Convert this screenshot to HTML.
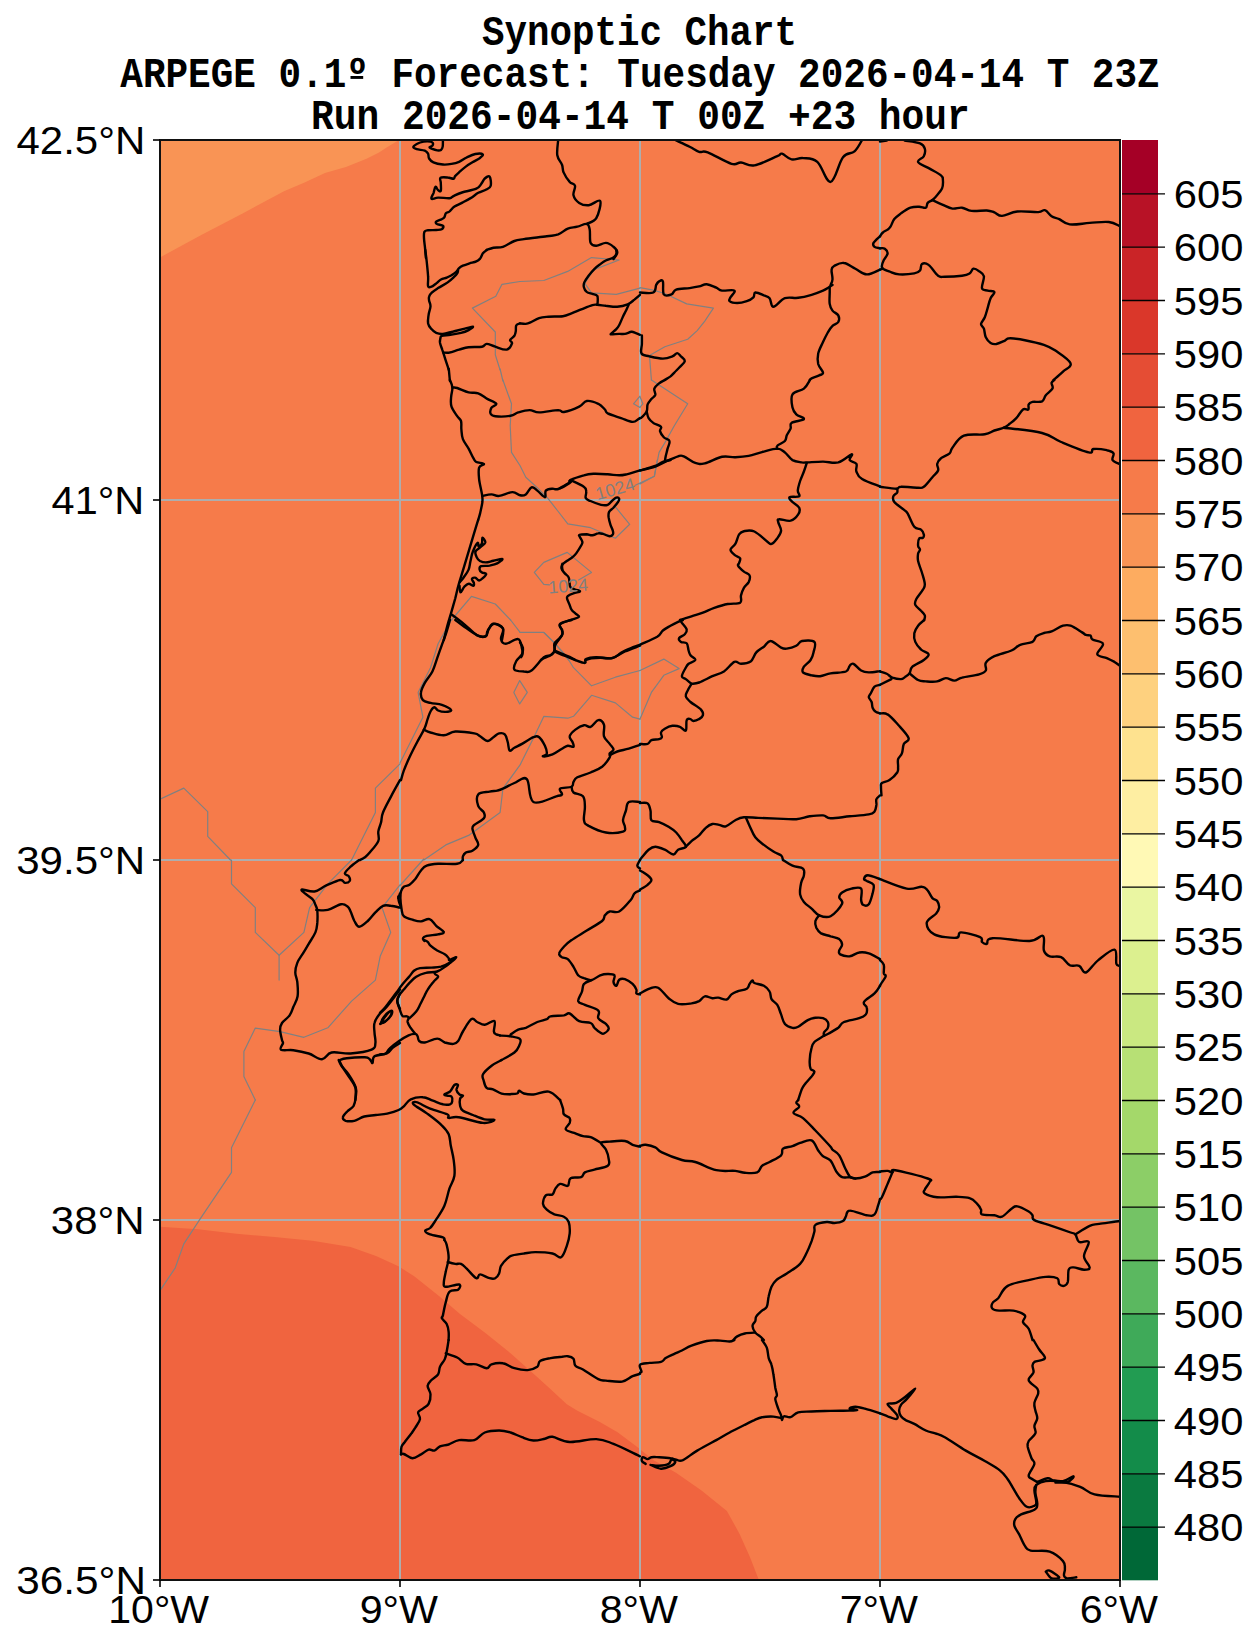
<!DOCTYPE html>
<html><head><meta charset="utf-8"><style>html,body{margin:0;padding:0;background:#fff;}svg{display:block;}</style></head><body>
<svg width="1259" height="1646" viewBox="0 0 1259 1646">
<rect x="0" y="0" width="1259" height="1646" fill="#ffffff"/>
<defs><clipPath id="mc"><rect x="160" y="140" width="960" height="1440"/></clipPath></defs>
<g clip-path="url(#mc)">
<rect x="160" y="140" width="960" height="1440" fill="#f67b4a"/>
<path d="M158,138 L399,138 L397.5,141 L387,147.3 L379,152.5 L366.5,158.7 L346,167 L325,173 L304.6,182.4 L284,191.3 L242.6,213.4 L201.3,235 L158,258.5 Z" fill="#f99455"/>
<path d="M158,1226.6 L160,1226.7 L198.1,1229.2 L236.3,1233.8 L274.4,1236.9 L312.5,1240.7 L350.6,1247 L376,1255.9 L399,1266.6 L414.2,1276.3 L439.6,1296.6 L460,1314 L485.4,1333 L510.8,1353.4 L536.3,1376.3 L549,1387.7 L566.8,1404.2 L577,1410.6 L599.8,1422 L617.6,1432.2 L637.9,1447.4 L653.2,1460.1 L676,1472.8 L701.5,1490.6 L714.2,1500.8 L726.9,1511 L739.6,1533.9 L749.8,1556.7 L758.7,1579.6 L759.5,1582 L158,1582 Z" fill="#f0643f"/>

<line x1="400" y1="140" x2="400" y2="1580" stroke="#adadad" stroke-width="2"/>
<line x1="640" y1="140" x2="640" y2="1580" stroke="#adadad" stroke-width="2"/>
<line x1="880" y1="140" x2="880" y2="1580" stroke="#adadad" stroke-width="2"/>
<line x1="160" y1="500" x2="1120" y2="500" stroke="#adadad" stroke-width="2"/>
<line x1="160" y1="860" x2="1120" y2="860" stroke="#adadad" stroke-width="2"/>
<line x1="160" y1="1220" x2="1120" y2="1220" stroke="#adadad" stroke-width="2"/>
<g fill="none" stroke="#808080" stroke-width="1.2" stroke-linejoin="round" stroke-linecap="round">
<polyline points="520.0,281.5 502.0,284.3 495.8,296.2 472.4,308.1 495.3,332.0 495.3,354.8 500.1,370.0"/>
<polyline points="520.0,281.5 543.8,280.5 567.7,271.4 591.5,257.6 619.1,260.0 595.3,269.1 591.5,272.9 584.8,283.4 591.5,292.9 616.3,294.3 640.0,288.1"/>
<polyline points="640.0,287.7 653.3,290.2 664.8,293.5 686.7,303.9 713.4,308.1 704.8,321.1 697.2,330.6 687.7,339.2 664.8,346.8 649.5,355.4 651.4,380.0"/>
<polyline points="502.9,380.0 511.5,403.8 510.2,425.8 511.5,452.4 520.1,465.8 525.8,477.2 537.3,487.7 547.7,498.2 558.2,511.5 567.8,523.9 590.6,527.7 602.1,532.5 615.4,538.2 629.7,524.3 614.5,505.8"/>
<polyline points="640.0,396.2 633.5,403.8 640.0,407.6"/>
<polyline points="451.5,620.0 471.5,596.4 495.3,604.0 510.6,620.0"/>
<polyline points="657.2,460.0 654.4,476.2 635.3,485.3"/>
<polyline points="578.6,580.0 591.5,572.4 567.2,552.4 543.8,562.4 534.3,572.4 543.8,584.3 549.5,584.8"/>
<polyline points="520.0,632.5 543.8,632.5 555.3,643.9 568.6,660.0"/>
<polyline points="640.0,396.8 642.9,403.8 640.0,407.1"/>
<polyline points="651.4,380.0 687.7,403.8 674.3,425.8 664.8,442.9 659.1,452.4 654.3,476.3 640.0,483.9"/>
<polyline points="510.6,620.0 520.1,632.4 543.9,632.4 554.4,642.9 565.8,655.3 573.5,667.7 591.6,685.8 615.4,677.2 640.0,670.5"/>
<polyline points="400.0,763.0 422.9,717.2 418.1,692.4 430.5,667.7 438.1,643.8 451.1,620.0"/>
<polyline points="519.7,680.6 527.3,692.4 519.7,703.9 513.8,692.4 519.7,680.6"/>
<polyline points="640.0,719.1 632.6,717.2 615.4,702.9 591.6,695.3 573.5,716.3 567.8,718.2 543.9,716.3 533.4,738.2 520.1,764.9 502.9,788.7 500.1,812.5 468.6,835.4 445.8,844.9 423.8,860.0"/>
<polyline points="640.0,670.5 663.8,659.1 679.1,668.6 663.8,675.3 651.4,692.4 640.0,719.1"/>
<polyline points="160.0,799.2 183.8,788.1 207.7,811.6 207.7,836.4 230.5,860.0"/>
<polyline points="400.0,763.9 375.4,788.1 375.4,812.5 351.6,860.0"/>
<polyline points="231.5,860.0 231.5,883.8 255.3,907.7 255.3,932.4 279.1,955.3 279.1,980.1"/>
<polyline points="279.1,955.3 303.9,932.4 309.6,907.7 327.8,883.8 351.6,860.0"/>
<polyline points="400.0,884.8 382.1,907.7 390.7,932.4 380.2,956.3 375.4,980.1 351.6,1001.1 327.8,1027.8 303.9,1037.3 280.1,1031.6 255.3,1028.1 243.9,1051.6 243.9,1076.4 255.3,1100.0"/>
<polyline points="255.3,1100.0 231.5,1147.7 231.5,1172.4 200.0,1219.1 183.8,1243.9 175.3,1267.8 160.0,1290.6"/>
<polyline points="500.1,369.0 502.9,381.0"/>
<polyline points="423.8,859.0 400.0,885.5"/>
</g>
<g fill="none" stroke="#000" stroke-width="2.4" stroke-linejoin="round" stroke-linecap="round">
<path d="M442.9,140.4 C442.9,141.5 443.0,144.9 442.7,146.6 C442.4,148.3 442.0,149.2 441.0,149.9 C440.0,150.6 438.9,150.6 437.2,150.4 C435.5,150.2 432.8,149.2 431.5,148.7 C430.1,148.1 429.4,147.9 429.5,147.3 C429.7,146.8 431.8,146.4 432.4,145.6 C433.0,144.9 433.2,144.0 432.9,143.2 C432.5,142.5 432.1,141.9 430.5,141.6 C428.9,141.3 426.2,141.2 423.8,141.6 C421.4,142.0 419.0,142.7 417.2,143.7 C415.3,144.7 413.4,146.1 413.3,147.1 C413.3,148.0 414.6,148.6 416.7,149.2 C418.7,149.9 422.7,149.8 424.8,150.6 C426.8,151.4 427.3,152.3 428.1,153.7 C428.9,155.2 428.1,156.9 429.1,158.5 C430.0,160.0 430.9,161.2 433.4,162.3 C435.8,163.4 439.6,164.2 442.9,164.5 C446.2,164.8 448.6,164.4 451.5,163.9 C454.4,163.4 456.3,163.0 459.1,161.8 C461.8,160.7 463.8,158.9 466.7,157.5 C469.6,156.1 472.4,154.6 475.3,154.0 C478.2,153.4 482.0,153.6 482.7,154.4 C483.5,155.1 481.4,156.8 479.6,158.2 C477.7,159.6 474.9,160.8 472.4,162.3 C470.0,163.8 468.2,164.8 465.8,166.6 C463.4,168.4 461.0,170.6 459.1,172.3 C457.2,174.0 456.1,175.0 455.1,176.1 C454.1,177.3 454.9,178.6 453.6,178.8 C452.2,179.0 450.0,177.6 447.7,177.5 C445.3,177.3 441.7,176.9 440.5,177.8 C439.3,178.8 440.7,180.4 440.8,182.8 C440.8,185.1 441.3,189.6 440.8,190.9 C440.3,192.2 438.9,190.7 437.9,189.9 C437.0,189.2 436.2,186.3 435.5,186.8 C434.7,187.3 434.3,190.6 433.6,192.8 C432.8,195.0 430.6,198.0 431.5,198.8 C432.3,199.7 434.9,197.7 438.1,197.6 C441.4,197.5 446.8,198.5 449.6,198.2 C452.3,198.0 451.1,197.2 453.4,196.1 C455.6,195.1 457.8,193.9 462.0,192.5 C466.1,191.2 472.8,190.3 476.3,188.7 C479.7,187.2 479.7,185.8 481.2,183.9 C482.8,182.1 483.3,179.8 484.8,178.5 C486.3,177.2 488.5,175.3 489.6,176.6 C490.7,177.9 491.3,183.3 490.7,185.7 C490.1,188.0 488.5,188.2 486.3,189.5 C484.0,190.8 481.1,191.3 478.3,192.8 C475.6,194.3 473.9,196.1 471.0,197.9 C468.1,199.6 465.4,201.0 462.4,202.6 C459.5,204.2 456.8,205.0 454.5,206.6 C452.2,208.2 451.1,210.2 449.6,211.4 C448.0,212.6 446.9,212.2 445.9,213.3 C445.0,214.4 445.1,216.2 444.3,217.3 C443.6,218.4 443.2,218.4 441.7,219.2 C440.3,220.0 437.1,220.7 436.2,221.6 C435.4,222.4 435.7,223.2 437.0,224.0 C438.2,224.7 442.2,224.9 443.1,225.9 C443.9,226.8 443.0,228.5 441.7,229.2 C440.5,230.0 438.8,229.8 436.2,230.0 C433.7,230.2 429.8,229.9 427.6,230.3 C425.5,230.6 425.1,230.5 424.4,231.9 C423.7,233.3 423.9,235.2 424.0,238.1 C424.1,240.9 424.6,244.0 425.0,247.6 C425.3,251.2 425.8,256.1 425.9,258.0"/>
<path d="M425.3,250.0 C425.5,252.1 426.2,256.6 426.7,261.4 C427.2,266.2 427.9,272.2 428.1,276.7 C428.4,281.1 427.5,284.4 428.1,286.2 C428.7,288.0 430.0,287.2 431.5,286.7 C432.9,286.2 434.5,284.6 436.2,283.4 C437.9,282.1 439.1,280.6 441.0,279.5 C442.9,278.5 444.8,278.4 446.7,277.6 C448.6,276.9 449.8,276.3 451.5,275.3 C453.2,274.2 454.9,273.2 456.2,271.9 C457.6,270.6 457.9,269.2 459.1,268.1 C460.3,267.0 461.0,266.6 462.9,265.7 C464.8,264.9 467.2,264.1 469.6,263.3 C472.0,262.6 474.4,262.3 476.3,261.4 C478.1,260.6 478.9,260.0 480.1,258.6 C481.3,257.1 481.7,254.9 482.9,253.3 C484.1,251.8 486.0,250.6 486.7,250.0"/>
<path d="M458.1,270.5 C458.0,271.0 457.9,272.2 457.2,273.4 C456.5,274.5 456.0,275.1 454.3,276.7 C452.6,278.3 450.6,280.3 447.7,282.4 C444.7,284.5 441.0,286.2 438.1,288.1 C435.2,290.0 433.1,291.3 431.5,292.9 C429.8,294.4 429.5,295.3 429.1,296.7 C428.6,298.1 428.8,298.8 429.1,300.5 C429.3,302.2 430.6,303.7 430.5,306.2 C430.4,308.8 429.0,311.7 428.6,314.8 C428.2,317.9 427.6,320.8 428.1,323.4 C428.6,326.0 430.0,327.4 431.5,329.1 C432.9,330.8 434.2,332.1 436.2,332.9 C438.3,333.8 439.8,334.1 442.9,333.9 C446.0,333.6 449.4,332.4 453.4,331.5 C457.3,330.5 461.3,329.5 464.8,328.6 C468.3,327.8 472.2,326.5 472.9,326.7 C473.6,327.0 470.8,328.9 468.6,330.1 C466.5,331.2 464.3,332.1 461.0,332.9 C457.7,333.8 453.9,334.3 450.5,334.8 C447.1,335.3 443.7,335.3 441.9,335.8 C440.1,336.3 440.9,336.4 440.5,337.7 C440.2,339.0 439.7,340.7 440.0,342.9 C440.4,345.2 441.6,347.4 442.4,350.1 C443.3,352.7 443.9,354.8 444.8,357.7 C445.7,360.6 446.9,364.1 447.7,366.3 C448.4,368.5 448.6,369.3 448.8,370.0"/>
<path d="M443.4,352.5 C444.5,352.5 446.7,353.0 449.6,352.5 C452.4,351.9 455.7,350.5 459.1,349.6 C462.5,348.7 464.5,347.7 468.6,347.2 C472.7,346.7 478.7,347.3 482.0,346.7 C485.2,346.1 484.3,343.9 486.7,343.9 C489.1,343.9 491.7,345.7 495.3,346.7 C498.9,347.8 503.7,350.2 506.8,349.6 C509.8,349.0 511.4,345.1 512.0,343.4 C512.6,341.7 509.7,341.4 510.1,340.1 C510.5,338.7 513.3,337.4 514.4,335.8 C515.4,334.2 515.5,332.9 515.8,331.0 C516.1,329.1 515.5,326.7 516.3,325.3 C517.0,323.9 519.3,323.7 520.0,323.4"/>
<path d="M616.3,250.0 C616.3,250.7 616.8,252.4 616.3,253.8 C615.8,255.2 615.3,256.4 613.4,257.6 C611.5,258.8 608.2,259.3 605.8,260.5 C603.4,261.7 602.1,262.8 600.1,264.3 C598.0,265.8 596.4,267.0 594.3,269.1 C592.3,271.1 590.4,273.3 588.6,275.7 C586.8,278.1 585.2,280.3 584.3,282.4 C583.5,284.5 583.4,285.5 583.9,287.2 C584.3,288.9 585.2,290.7 586.7,291.9 C588.3,293.1 590.6,293.2 592.4,293.8 C594.3,294.5 596.3,294.4 597.2,295.8 C598.1,297.1 597.7,299.8 597.7,301.5 C597.7,303.1 597.3,304.2 597.2,304.8"/>
<path d="M520.0,323.4 C521.0,323.5 523.8,324.0 525.7,323.9 C527.6,323.7 528.1,323.5 530.5,322.4 C532.9,321.4 535.8,319.2 539.1,318.1 C542.3,317.1 544.3,317.1 548.6,316.7 C552.9,316.4 558.8,316.8 562.9,316.2 C567.0,315.6 568.0,314.7 571.5,313.4 C574.9,312.1 578.2,310.6 582.0,309.1 C585.7,307.6 589.7,305.9 592.4,305.1 C595.2,304.3 594.8,304.7 597.2,304.8 C599.6,304.9 602.2,305.4 605.8,305.8 C609.4,306.1 613.3,307.0 617.2,306.7 C621.2,306.5 624.6,305.6 627.7,304.3 C630.8,303.0 632.2,301.3 634.4,299.6 C636.6,297.8 639.0,295.7 640.0,294.8"/>
<path d="M628.7,304.8 C628.1,305.9 626.8,308.9 625.8,311.0 C624.8,313.1 624.1,314.1 622.9,316.7 C621.7,319.3 620.3,323.1 619.1,325.3 C617.9,327.5 617.6,327.7 616.3,329.1 C614.9,330.6 612.4,332.5 611.5,333.4 C610.6,334.3 610.1,334.3 611.5,334.4 C612.9,334.4 616.7,334.0 619.1,333.9 C621.5,333.8 622.6,334.3 624.8,333.9 C627.1,333.5 629.6,332.0 631.5,331.8 C633.4,331.6 633.8,332.4 635.3,332.9 C636.9,333.5 639.2,334.5 640.0,334.8"/>
<path d="M558.2,140.0 C558.0,142.7 556.6,150.8 557.3,155.3 C558.0,159.7 560.9,161.7 562.0,164.8 C563.2,167.9 562.2,169.3 563.6,172.4 C564.9,175.5 567.6,179.5 569.7,181.9 C571.7,184.3 574.3,183.3 575.0,185.8 C575.7,188.2 572.7,192.2 573.5,195.3 C574.2,198.4 576.4,201.1 579.2,202.9 C581.9,204.7 584.9,205.5 588.7,205.2 C592.5,204.9 598.8,198.7 600.2,201.0 C601.5,203.3 598.7,214.0 596.3,218.2 C593.9,222.3 588.5,222.8 586.8,223.9"/>
<path d="M486.7,250.0 C487.9,249.6 490.5,248.3 493.4,247.7 C496.3,247.1 499.2,248.0 502.9,246.8 C506.7,245.6 510.6,242.4 514.4,241.0 C518.2,239.7 518.1,240.0 523.9,239.1 C529.7,238.3 540.6,237.1 546.8,236.3 C553.0,235.4 554.4,235.7 558.2,234.4 C562.0,233.0 564.3,230.0 567.8,228.6 C571.2,227.3 573.9,227.6 577.3,226.7 C580.7,225.9 584.6,223.4 586.8,223.9 C589.0,224.4 589.0,226.2 589.7,229.6 C590.4,233.0 589.4,240.0 590.6,242.9 C591.8,245.9 593.6,245.8 596.3,245.8 C599.1,245.8 602.8,242.8 605.9,242.9 C609.0,243.1 611.4,245.0 613.5,246.8 C615.6,248.5 617.3,250.2 617.3,252.5 C617.3,254.7 614.2,257.9 613.5,259.1"/>
<path d="M675.3,140.0 C677.8,141.2 685.3,144.5 689.6,146.7 C693.9,148.8 695.8,150.8 699.1,151.8 C702.4,152.8 701.8,150.2 707.7,152.4 C713.5,154.6 725.5,162.0 731.5,163.8 C737.5,165.6 736.9,162.2 741.0,162.5 C745.2,162.8 747.9,166.5 754.4,165.4 C760.9,164.2 772.3,158.3 777.3,156.2 C782.2,154.1 779.4,153.1 782.0,153.7 C784.6,154.3 787.8,158.7 791.5,159.4 C795.3,160.2 798.4,157.7 803.0,158.1 C807.6,158.6 812.3,157.6 817.3,161.9 C822.3,166.2 826.0,182.8 830.6,181.9 C835.3,181.1 838.7,162.6 843.0,157.2 C847.3,151.7 851.0,154.5 854.5,151.4 C857.9,148.3 860.7,142.1 862.1,140.0"/>
<path d="M880.0,236.3 C878.8,237.5 874.5,241.1 873.5,242.9 C872.5,244.8 873.3,245.8 874.5,246.8 C875.6,247.7 879.0,248.0 880.0,248.3"/>
<path d="M830.6,284.9 C831.0,283.8 832.4,281.9 832.5,279.2 C832.7,276.4 831.2,272.0 831.6,269.6 C831.9,267.2 832.2,267.0 834.4,265.8 C836.7,264.6 840.2,262.4 844.0,263.0 C847.7,263.5 851.3,266.6 855.4,268.7 C859.5,270.7 862.4,274.2 866.8,274.4 C871.3,274.6 877.6,270.5 880.0,269.6"/>
<path d="M640.0,292.5 C642.4,292.5 650.4,293.9 653.3,292.5 C656.3,291.1 655.2,286.9 656.2,284.9 C657.2,282.9 657.9,282.1 659.1,281.4 C660.3,280.8 662.0,279.1 662.9,281.4 C663.7,283.8 662.3,292.1 663.8,294.4 C665.4,296.7 669.2,295.3 671.5,294.4 C673.7,293.6 673.0,290.8 676.2,289.6 C679.5,288.5 685.4,288.7 689.6,288.1 C693.7,287.5 696.0,287.1 699.1,286.4 C702.2,285.7 703.6,284.1 706.7,284.3 C709.8,284.5 713.5,286.6 716.3,287.7 C719.0,288.9 718.7,290.1 722.0,290.6 C725.2,291.1 732.8,289.4 734.4,290.6 C735.9,291.8 731.4,295.4 730.5,297.3 C729.7,299.2 728.4,300.1 729.6,301.1 C730.8,302.1 734.1,303.0 737.2,303.0 C740.3,303.0 743.8,302.1 746.8,301.1 C749.7,300.1 751.9,298.8 753.4,297.3 C755.0,295.7 753.4,292.8 755.3,292.5 C757.2,292.2 761.3,294.3 763.9,295.4 C766.5,296.4 767.9,296.2 769.6,298.2 C771.3,300.3 770.7,306.8 773.4,306.8 C776.2,306.8 780.4,299.8 784.9,298.2 C789.3,296.6 793.4,298.5 798.2,297.8 C803.0,297.2 807.1,296.1 811.6,294.8 C816.0,293.5 819.7,292.0 823.0,290.6 C826.3,289.2 828.0,287.8 829.7,286.8 C831.4,285.8 832.0,285.2 832.5,284.9"/>
<path d="M829.7,286.8 C829.7,287.8 829.7,289.4 829.7,292.5 C829.7,295.6 829.2,300.7 829.7,303.9 C830.2,307.2 831.0,308.6 832.5,310.6 C834.1,312.7 837.2,313.3 838.3,315.4 C839.3,317.4 839.3,320.2 838.3,322.0 C837.2,323.9 834.4,324.0 832.5,325.9 C830.6,327.7 829.5,329.6 827.8,332.5 C826.1,335.5 824.7,338.3 823.0,342.1 C821.3,345.8 819.1,349.6 818.2,353.5 C817.4,357.4 817.4,360.6 818.2,364.0 C819.1,367.4 822.8,370.5 823.0,372.6 C823.2,374.6 821.2,374.4 819.2,375.4 C817.1,376.5 813.3,377.5 811.6,378.3 C809.8,379.1 810.0,379.7 809.7,380.0"/>
<path d="M641.9,335.4 C641.9,336.9 642.0,340.7 641.9,344.0 C641.8,347.2 640.2,351.3 641.5,353.5 C642.9,355.7 645.7,355.4 649.5,356.4 C653.4,357.3 658.8,358.6 662.9,358.6 C667.0,358.6 669.8,357.4 672.4,356.4 C675.0,355.4 675.6,353.1 677.2,353.1 C678.7,353.1 679.6,354.9 681.0,356.4 C682.4,357.8 685.0,359.2 684.8,361.1 C684.6,363.0 681.9,364.8 680.0,366.8 C678.1,368.9 676.0,370.8 674.3,372.6 C672.6,374.3 672.2,375.0 670.5,376.4 C668.8,377.7 665.8,379.3 664.8,380.0"/>
<path d="M880.0,141.5 L886.7,140.6"/>
<path d="M904.8,140.6 C907.5,141.1 916.4,142.0 920.0,143.4 C923.6,144.9 924.1,146.3 924.8,148.6 C925.5,150.9 925.0,153.8 923.8,156.2 C922.6,158.6 917.1,159.7 918.1,161.9 C919.2,164.2 925.4,166.2 929.6,168.6 C933.7,171.0 938.6,173.2 941.0,175.3 C943.4,177.3 942.7,177.6 942.9,180.0 C943.1,182.4 943.3,185.5 942.0,188.6 C940.6,191.7 937.0,195.1 935.3,197.2 C933.6,199.2 933.8,199.0 932.4,200.0 C931.1,201.1 928.9,201.5 927.7,202.9 C926.5,204.3 927.3,207.0 925.8,207.7 C924.2,208.4 921.8,206.7 919.1,206.7 C916.3,206.7 913.8,206.5 910.5,207.7 C907.2,208.9 903.9,211.3 901.0,213.4 C898.1,215.5 896.2,216.7 894.3,219.1 C892.4,221.5 891.7,224.8 890.5,226.7 C889.3,228.6 889.0,228.6 887.6,229.6 C886.3,230.6 884.2,231.3 882.9,232.5 C881.5,233.7 880.5,235.6 880.0,236.3"/>
<path d="M932.4,200.0 C934.3,200.9 939.3,203.3 942.9,204.8 C946.5,206.4 949.0,208.1 952.4,208.6 C955.9,209.1 958.5,207.3 962.0,207.7 C965.4,208.1 967.0,210.4 971.5,210.9 C976.0,211.4 982.6,210.3 986.8,210.5 C990.9,210.8 991.6,211.5 994.4,212.4 C997.1,213.4 997.9,216.0 1002.0,215.9 C1006.1,215.7 1010.7,212.2 1017.3,211.5 C1023.8,210.8 1033.2,212.3 1038.2,212.1 C1043.2,211.8 1042.5,209.4 1044.9,210.2 C1047.3,210.9 1049.0,214.6 1051.6,216.3 C1054.1,217.9 1055.9,217.6 1059.2,219.1 C1062.4,220.6 1064.2,223.8 1069.7,224.4 C1075.2,225.1 1082.7,223.4 1089.7,222.9 C1096.7,222.5 1103.3,221.4 1108.8,222.0 C1114.2,222.6 1118.0,225.4 1120.0,226.2"/>
<path d="M880.0,248.3 C880.9,248.3 883.4,247.7 884.8,248.7 C886.1,249.6 887.8,251.4 887.6,253.4 C887.5,255.5 884.8,257.9 883.8,260.1 C882.8,262.3 882.1,264.3 881.9,265.8 C881.7,267.4 881.5,267.6 882.9,268.7 C884.2,269.7 886.6,270.5 889.5,271.5 C892.4,272.6 894.6,274.0 899.1,274.4 C903.5,274.7 910.5,274.1 914.3,273.4 C918.1,272.8 918.7,272.3 920.0,270.6 C921.4,268.9 920.4,264.9 921.9,263.9 C923.5,262.9 925.7,262.7 928.6,264.9 C931.5,267.0 935.2,273.6 938.1,275.7 C941.1,277.9 940.5,276.7 944.8,276.7 C949.1,276.7 957.5,276.3 962.0,275.7 C966.4,275.1 967.5,274.7 969.6,273.4 C971.7,272.2 971.7,269.1 973.4,268.7 C975.1,268.3 977.2,269.8 979.1,271.2 C981.0,272.5 983.4,273.2 983.9,276.3 C984.4,279.4 981.3,285.7 982.0,288.3 C982.7,290.9 985.5,289.9 987.7,290.6 C989.9,291.3 993.9,290.7 994.4,292.1 C994.9,293.5 991.8,295.4 990.6,298.2 C989.4,301.0 988.7,304.3 987.7,307.8 C986.7,311.2 986.0,314.4 984.8,317.3 C983.6,320.2 981.2,321.9 981.0,324.0 C980.9,326.0 983.0,326.3 983.9,328.7 C984.7,331.1 984.6,334.7 985.8,337.3 C987.0,339.9 988.7,341.8 990.6,343.0 C992.5,344.2 993.9,344.3 996.3,344.0 C998.7,343.6 1001.5,342.1 1003.9,341.1 C1006.3,340.1 1005.9,338.4 1009.6,338.3 C1013.4,338.1 1018.7,339.0 1024.9,340.2 C1031.1,341.4 1038.4,343.0 1043.9,344.9 C1049.4,346.8 1050.6,347.3 1055.4,350.6 C1060.2,354.0 1069.3,359.6 1070.6,363.4 C1072.0,367.2 1066.1,368.6 1063.0,371.6 C1059.9,374.6 1055.2,378.5 1053.5,380.0"/>
<path d="M880.0,269.6 L882.9,268.7"/>
<path d="M449.9,380.0 C450.4,381.4 452.2,384.5 452.4,387.6 C452.6,390.7 451.3,393.7 451.1,397.2 C450.9,400.6 450.4,403.3 451.5,406.7 C452.6,410.1 455.5,413.6 457.2,416.2 C458.9,418.8 460.2,418.6 461.0,421.0 C461.8,423.4 461.0,426.3 461.4,429.6 C461.7,432.8 461.6,435.7 462.9,439.1 C464.2,442.5 466.7,445.2 468.6,448.6 C470.5,452.1 472.0,455.8 473.4,458.2 C474.8,460.6 474.4,460.9 476.3,462.0 C478.1,463.0 483.4,462.8 483.9,463.9 C484.4,464.9 480.0,464.9 479.1,467.7 C478.3,470.4 478.6,474.3 479.1,479.1 C479.6,483.9 481.4,490.3 482.0,494.4 C482.6,498.5 482.7,498.6 482.4,502.0 C482.0,505.4 480.8,510.2 480.1,513.4 C479.3,516.7 478.5,518.8 478.2,519.9"/>
<path d="M452.4,387.6 C453.3,387.7 454.3,387.1 457.2,388.0 C460.1,388.9 464.9,391.4 468.6,392.4 C472.4,393.4 474.7,392.1 478.2,393.3 C481.6,394.5 484.4,397.2 487.7,399.1 C490.9,400.9 495.6,402.3 496.3,403.8 C497.0,405.4 492.5,405.9 491.5,407.6 C490.5,409.4 489.9,411.8 490.5,413.4 C491.2,414.9 491.7,415.8 495.3,416.2 C498.9,416.7 506.4,416.5 510.6,415.8 C514.7,415.2 514.8,413.4 518.2,412.4 C521.6,411.4 525.9,410.1 529.6,410.1 C533.4,410.1 534.0,412.4 539.2,412.4 C544.3,412.4 553.8,410.2 558.2,410.1 C562.7,410.1 560.2,412.6 563.9,412.0 C567.7,411.4 575.1,408.7 579.2,406.7 C583.3,404.7 583.4,401.5 586.8,401.0 C590.2,400.5 595.0,402.3 598.3,403.8 C601.5,405.4 603.2,407.8 604.9,409.5 C606.6,411.3 604.9,411.8 607.8,413.4 C610.7,414.9 616.7,416.6 621.1,418.1 C625.6,419.7 629.5,421.8 632.6,421.9 C635.7,422.1 636.9,419.8 638.3,419.1 C639.6,418.4 639.7,418.3 640.0,418.1"/>
<path d="M482.4,495.9 C484.0,495.6 488.5,494.4 491.5,494.4 C494.5,494.4 495.4,496.3 499.1,495.9 C502.9,495.5 508.7,492.2 512.5,492.1 C516.2,492.0 517.7,494.9 520.1,495.3 C522.5,495.7 523.8,495.8 525.8,494.4 C527.9,492.9 529.5,488.0 531.5,487.3 C533.6,486.6 534.8,488.8 537.3,490.6 C539.7,492.3 543.3,497.2 544.9,497.2 C546.4,497.2 544.5,492.1 545.8,490.6 C547.2,489.0 550.3,488.9 552.5,488.7 C554.7,488.4 555.1,490.1 558.2,489.0 C561.3,488.0 567.3,484.6 569.7,482.9 C572.1,481.3 571.2,480.6 571.6,480.1"/>
<path d="M478.1,520.0 C476.9,523.9 474.0,533.3 471.5,541.9 C468.9,550.5 466.1,559.9 463.8,567.7 C461.5,575.4 460.1,579.3 458.6,584.8 C457.0,590.3 456.6,593.0 455.3,598.2 C453.9,603.3 452.3,608.6 451.0,613.4 C449.6,618.2 448.9,620.1 447.6,624.8 C446.3,629.6 444.5,637.3 443.8,640.0"/>
<path d="M460.0,582.0 C460.7,581.1 462.3,579.4 463.8,577.2 C465.4,575.0 467.4,572.5 468.6,569.6 C469.8,566.6 469.7,564.2 470.5,561.0 C471.3,557.7 471.6,554.7 472.9,551.5 C474.2,548.2 476.6,543.8 477.6,542.9 C478.7,541.9 477.8,546.1 478.6,546.2 C479.4,546.3 481.3,544.9 481.9,543.4 C482.6,541.8 481.8,537.8 482.4,537.6 C483.0,537.5 485.6,540.7 485.3,542.4 C484.9,544.1 482.3,545.5 480.5,547.2 C478.7,548.8 476.1,549.7 475.5,551.5 C474.8,553.3 475.9,555.5 476.7,557.2 C477.5,558.9 478.4,560.0 480.0,561.0 C481.7,561.9 483.3,562.4 485.8,562.4 C488.2,562.4 490.4,561.4 493.4,560.8 C496.4,560.2 501.7,558.4 502.4,558.9 C503.1,559.4 499.5,562.2 497.2,563.4 C494.9,564.6 492.5,565.0 489.6,565.6 C486.6,566.1 482.8,565.5 481.0,566.2 C479.2,566.9 479.4,568.4 479.6,569.6 C479.7,570.7 480.7,571.7 481.9,572.4 C483.1,573.2 486.0,572.9 486.2,573.9 C486.5,574.8 484.7,576.5 483.4,577.7 C482.1,578.9 480.5,580.5 479.1,580.5 C477.6,580.5 476.6,577.9 475.3,577.7 C474.0,577.4 472.2,578.2 471.9,579.1 C471.7,580.0 473.6,581.7 473.8,582.9 C474.1,584.1 474.3,585.6 473.4,585.8 C472.4,585.9 470.2,583.5 468.6,583.7 C467.0,583.8 465.8,585.1 464.3,586.7 C462.8,588.3 461.4,592.6 460.5,592.4 C459.6,592.3 459.7,587.0 459.5,585.8"/>
<path d="M451.4,614.4 C453.7,616.1 459.2,620.1 463.8,623.9 C468.5,627.7 473.2,633.1 477.2,635.3 C481.1,637.6 483.9,637.1 485.8,636.3 C487.6,635.4 486.2,632.8 487.7,630.6 C489.1,628.3 491.1,624.3 493.9,623.9 C496.6,623.5 501.4,625.3 502.9,628.2 C504.4,631.1 502.1,637.9 502.0,640.0"/>
<path d="M560.0,488.1 C561.5,487.2 566.7,484.3 568.6,482.9 C570.5,481.4 567.7,481.4 570.5,480.0 C573.2,478.6 579.7,476.4 583.8,475.3 C587.9,474.1 589.1,474.0 593.4,473.8 C597.6,473.6 603.0,474.0 607.7,474.3 C612.3,474.6 615.7,475.3 619.1,475.3 C622.5,475.3 623.1,475.1 626.7,474.3 C630.3,473.5 634.1,472.1 639.1,470.7 C644.1,469.2 650.1,467.8 654.4,466.2 C658.6,464.6 660.0,463.0 662.9,461.9 C665.9,460.8 669.2,460.3 670.6,460.0"/>
<path d="M570.5,480.0 C572.9,481.2 581.0,484.6 583.8,486.7 C586.7,488.7 585.9,489.4 586.2,491.5 C586.6,493.5 585.0,496.4 585.7,498.1 C586.5,499.8 587.8,499.8 590.5,501.0 C593.2,502.2 597.9,504.1 601.0,504.8 C604.1,505.5 605.7,505.5 607.7,504.8 C609.6,504.1 610.4,502.3 611.9,501.0 C613.5,499.7 614.9,498.1 616.2,497.6 C617.5,497.2 618.8,497.8 619.1,498.6 C619.4,499.4 619.2,500.3 618.1,501.9 C617.1,503.6 615.0,505.9 613.4,507.7 C611.7,509.5 609.9,510.2 609.1,511.9 C608.2,513.7 608.4,514.9 608.6,517.2 C608.9,519.5 609.7,522.3 610.5,524.8 C611.3,527.3 612.5,529.3 612.9,531.0 C613.3,532.7 613.5,533.4 612.9,534.3 C612.3,535.3 611.4,536.3 609.6,536.3 C607.8,536.2 604.9,534.4 602.9,533.9 C600.8,533.4 600.0,533.1 598.1,533.4 C596.2,533.6 594.5,535.1 592.4,535.3 C590.3,535.5 589.0,534.4 586.7,534.3 C584.4,534.3 580.7,534.3 579.5,534.8 C578.3,535.3 579.5,535.9 580.0,537.2 C580.5,538.5 582.2,540.4 582.4,542.0 C582.6,543.5 582.1,543.7 581.0,545.8 C579.9,547.8 577.7,551.3 576.2,553.4 C574.7,555.5 574.1,555.8 572.4,557.2 C570.7,558.6 568.5,559.7 566.7,561.0 C564.9,562.4 563.2,563.3 562.4,564.8 C561.6,566.4 562.4,568.8 562.4,569.6"/>
<path d="M562.4,563.8 C562.2,564.7 561.0,566.9 561.5,568.6 C561.9,570.3 563.5,571.8 564.8,573.4 C566.1,574.9 567.8,575.5 568.6,577.2 C569.5,578.9 569.2,581.1 569.6,582.9 C569.9,584.7 569.5,586.0 570.5,587.2 C571.5,588.4 573.6,588.8 575.3,589.6 C577.0,590.3 580.4,590.8 580.0,591.5 C579.7,592.2 575.6,592.5 573.4,593.4 C571.1,594.2 568.8,595.2 567.7,596.2 C566.5,597.3 566.8,597.6 567.2,599.1 C567.5,600.6 568.8,602.9 569.6,604.8 C570.3,606.7 570.4,608.0 571.5,609.6 C572.5,611.1 573.9,612.1 575.3,613.4 C576.7,614.7 579.4,615.7 579.1,616.7 C578.8,617.8 575.9,618.2 573.4,619.1 C570.8,620.1 567.2,621.0 564.8,622.0 C562.4,622.9 560.9,623.5 560.0,624.4 C559.2,625.2 559.6,625.6 560.0,626.7 C560.5,627.9 562.1,629.0 562.4,630.5 C562.8,632.1 562.7,633.7 561.9,635.3 C561.2,636.9 559.5,638.1 558.1,639.6 C556.8,641.1 554.9,641.9 554.3,643.9 C553.7,645.9 555.1,648.8 554.8,650.6 C554.4,652.4 553.5,652.9 552.4,653.9 C551.3,654.9 550.1,655.5 548.6,656.3 C547.1,657.1 545.2,657.5 543.8,658.2 C542.5,658.9 541.5,659.7 541.0,660.0"/>
<path d="M554.8,650.6 C555.9,651.1 558.3,652.3 561.0,653.4 C563.6,654.5 567.0,655.6 569.6,656.8 C572.1,657.9 574.3,659.4 575.3,660.0"/>
<path d="M585.8,660.0 C586.8,659.7 588.9,658.6 591.5,658.2 C594.1,657.8 596.3,657.7 600.1,657.7 C603.8,657.7 608.7,659.0 612.5,658.2 C616.2,657.3 617.9,654.7 621.0,652.9 C624.1,651.2 626.2,650.1 629.6,648.7 C633.0,647.2 638.1,645.5 640.0,644.8"/>
<path d="M520.0,642.5 C520.5,643.4 522.4,645.6 522.9,647.7 C523.3,649.8 522.7,652.7 522.4,654.4 C522.0,656.1 521.2,656.7 521.0,657.2"/>
<path d="M664.8,380.0 C663.8,380.6 660.9,381.9 659.1,383.4 C657.2,385.0 655.0,386.5 654.3,388.6 C653.6,390.6 655.8,393.0 655.3,394.9 C654.7,396.8 652.8,397.3 651.4,399.1 C650.1,400.8 648.5,402.2 647.6,404.4 C646.8,406.6 647.7,409.2 646.7,411.5 C645.6,413.8 643.1,416.0 641.9,417.2 C640.7,418.4 640.3,418.0 640.0,418.1"/>
<path d="M646.7,411.5 C647.0,412.7 647.4,416.1 648.6,418.1 C649.8,420.2 651.1,421.3 653.3,422.9 C655.6,424.4 659.8,425.2 661.0,426.7 C662.2,428.2 659.5,429.2 660.0,431.1 C660.5,433.0 662.1,435.4 663.8,437.2 C665.5,439.0 668.9,438.9 669.5,441.0 C670.2,443.1 668.3,445.9 667.6,448.6 C667.0,451.4 666.2,453.8 665.7,456.3 C665.2,458.7 665.0,460.9 664.8,462.0"/>
<path d="M640.0,470.5 C642.7,469.9 650.8,468.3 655.3,466.7 C659.7,465.2 660.7,463.9 664.8,462.0 C668.9,460.1 674.7,457.3 678.1,456.3 C681.6,455.2 680.8,455.1 683.8,456.3 C686.9,457.5 691.5,461.7 695.3,462.9 C699.1,464.2 700.0,464.4 704.8,463.3 C709.6,462.2 716.5,457.9 722.0,456.8 C727.5,455.7 730.5,457.4 735.3,457.2 C740.1,457.0 743.9,456.8 748.7,455.9 C753.5,454.9 756.9,453.4 762.0,452.1 C767.1,450.8 773.1,448.6 777.3,448.6 C781.4,448.7 782.1,450.4 784.9,452.4 C787.6,454.5 789.4,458.3 792.5,460.1 C795.6,461.8 799.3,461.9 802.0,462.4 C804.8,462.8 804.0,462.5 807.8,462.4 C811.5,462.2 817.5,461.6 823.0,461.6 C828.5,461.6 833.1,463.7 838.3,462.4 C843.4,461.0 849.5,454.8 851.6,454.3 C853.7,453.9 848.8,458.3 849.7,460.1 C850.5,461.8 855.2,461.8 856.4,463.9 C857.6,465.9 855.3,468.8 856.4,471.5 C857.4,474.2 857.8,476.4 862.1,479.1 C866.3,481.8 876.8,485.1 880.0,486.4"/>
<path d="M777.3,448.6 C777.3,448.1 775.9,447.1 777.3,445.8 C778.6,444.4 783.2,442.9 784.9,441.0 C786.6,439.1 785.8,437.5 786.8,435.3 C787.8,433.1 789.7,430.8 790.6,428.6 C791.5,426.4 789.1,424.6 791.5,422.9 C794.0,421.2 803.1,420.6 803.9,419.1 C804.8,417.5 798.4,416.4 796.3,414.3 C794.3,412.3 793.2,411.2 792.5,407.6 C791.8,404.0 790.4,397.7 792.5,394.3 C794.6,390.9 800.8,391.2 803.9,388.6 C807.1,386.0 808.9,381.5 810.0,380.0"/>
<path d="M806.8,462.9 C806.3,464.5 805.1,468.2 803.9,471.5 C802.7,474.8 801.2,477.6 800.1,481.0 C799.0,484.5 798.0,487.8 797.8,490.6 C797.7,493.3 800.6,495.1 799.2,496.3 C797.7,497.5 790.8,496.2 789.6,497.2 C788.4,498.3 790.8,500.1 792.5,502.0 C794.2,503.9 798.1,505.5 799.2,507.7 C800.2,510.0 799.8,512.1 798.2,514.4 C796.7,516.7 794.0,519.8 790.6,520.7 C787.2,521.5 781.4,518.9 779.2,519.2 C776.9,519.4 777.9,520.0 778.2,522.0 C778.5,524.1 781.2,527.7 781.1,530.6 C780.9,533.5 779.0,535.8 777.3,538.2 C775.5,540.6 773.2,543.3 771.5,543.9 C769.8,544.6 770.8,544.3 767.7,542.0 C764.6,539.8 758.7,533.5 754.4,531.5 C750.1,529.6 746.6,530.7 743.9,531.2 C741.1,531.7 740.7,532.1 739.1,534.4 C737.6,536.7 736.9,541.2 735.3,543.9 C733.8,546.7 730.5,547.6 730.5,549.7 C730.5,551.7 733.6,553.8 735.3,555.4 C737.0,556.9 739.4,556.9 740.1,558.2 C740.8,559.6 739.5,561.6 739.1,563.0 C738.8,564.4 737.3,564.3 738.2,565.9 C739.0,567.4 741.8,569.9 743.9,571.6 C746.0,573.3 748.8,573.5 749.6,575.4 C750.5,577.3 749.7,579.8 748.7,582.1 C747.6,584.3 745.3,585.4 743.9,587.8 C742.5,590.2 741.7,592.7 741.0,595.4 C740.3,598.1 742.5,601.1 740.1,602.7 C737.7,604.2 732.3,603.1 727.7,604.0 C723.1,604.9 718.8,606.3 714.3,607.8 C709.9,609.3 707.0,611.0 702.9,612.6 C698.8,614.1 695.6,615.0 691.5,616.4 C687.4,617.7 682.1,619.3 680.0,620.0"/>
<path d="M1054.4,380.0 C1053.9,380.5 1051.9,381.3 1051.6,382.9 C1051.2,384.4 1053.5,386.3 1052.5,388.6 C1051.5,390.8 1047.7,393.0 1045.8,395.3 C1044.0,397.5 1044.4,400.1 1042.0,401.4 C1039.6,402.6 1034.9,401.4 1032.5,401.9 C1030.1,402.5 1029.4,403.0 1028.7,404.4 C1027.9,405.8 1029.3,408.6 1028.3,409.5 C1027.3,410.5 1025.1,408.0 1023.0,409.5 C1020.8,411.1 1018.7,415.6 1016.3,418.1 C1013.9,420.7 1011.9,422.1 1009.6,423.8 C1007.4,425.6 1006.7,426.5 1003.9,427.7 C1001.2,428.9 997.8,429.3 994.4,430.5 C990.9,431.7 990.3,433.4 984.8,434.3 C979.4,435.3 969.7,433.3 963.9,435.7 C958.0,438.1 955.0,444.5 952.4,447.7 C949.9,450.9 951.6,451.5 949.6,453.4 C947.5,455.3 943.2,456.3 941.0,458.2 C938.8,460.0 937.7,461.6 937.2,463.9 C936.7,466.1 939.0,468.1 938.1,470.5 C937.3,472.9 935.0,474.3 932.4,477.2 C929.8,480.1 926.4,484.9 923.8,486.8 C921.3,488.6 922.2,487.7 918.1,487.7 C914.0,487.7 904.9,486.6 901.0,486.8 C897.0,486.9 900.0,488.7 896.2,488.7 C892.4,488.7 882.9,487.1 880.0,486.8"/>
<path d="M1003.9,427.7 C1010.8,428.6 1031.7,430.4 1042.0,433.0 C1052.3,435.6 1052.7,438.5 1061.1,442.0 C1069.5,445.5 1082.9,451.2 1088.7,452.4 C1094.6,453.7 1090.2,449.4 1093.5,449.0 C1096.8,448.6 1103.2,449.4 1106.8,450.2 C1110.4,450.9 1112.5,451.6 1113.5,453.4 C1114.5,455.2 1111.4,458.1 1112.6,460.1 C1113.7,462.0 1118.7,463.5 1120.0,464.3"/>
<path d="M897.2,488.7 C897.2,489.3 897.8,491.1 897.2,492.5 C896.5,493.8 893.9,494.6 893.3,496.3 C892.8,498.0 892.4,499.6 894.3,502.0 C896.2,504.4 901.4,507.6 903.8,509.6 C906.2,511.7 905.8,510.4 907.6,513.4 C909.5,516.5 911.9,523.9 914.3,526.8 C916.7,529.7 919.3,528.3 921.0,529.6 C922.7,531.0 923.5,532.9 923.8,534.4 C924.2,535.9 923.7,537.1 922.9,537.8 C922.0,538.6 919.9,537.2 919.1,538.6 C918.2,540.0 918.0,543.9 918.1,545.8 C918.3,547.8 920.0,548.3 920.0,549.7 C920.0,551.0 918.5,551.4 918.1,553.5 C917.8,555.5 917.4,557.7 918.1,561.1 C918.8,564.5 920.7,568.4 921.9,572.5 C923.1,576.7 924.6,580.9 924.8,584.0 C925.0,587.1 924.4,586.9 922.9,589.7 C921.3,592.4 917.6,596.5 916.2,599.2 C914.8,602.0 914.4,602.9 915.3,604.9 C916.1,607.0 919.3,608.8 921.0,610.7 C922.7,612.5 924.2,613.7 924.8,615.4 C925.4,617.1 924.3,619.2 924.2,620.0"/>
<path d="M449.9,620.0 C449.4,622.1 448.1,627.0 446.7,631.4 C445.3,635.9 443.7,640.0 441.9,644.8 C440.2,649.6 438.9,653.3 437.2,658.1 C435.5,662.9 434.6,667.0 432.4,671.5 C430.2,675.9 426.8,679.1 424.8,682.9 C422.7,686.7 421.3,689.4 421.0,692.4 C420.6,695.5 421.2,698.2 422.9,700.1 C424.6,702.0 427.1,702.1 430.5,702.9 C433.9,703.8 438.2,703.6 441.9,704.8 C445.6,706.1 450.4,708.7 451.1,710.0 C451.8,711.2 448.1,711.8 445.8,711.9 C443.4,712.0 440.2,711.4 438.1,710.5 C436.1,709.7 435.7,707.1 434.3,707.3 C432.9,707.5 431.7,709.4 430.5,711.5 C429.3,713.6 428.7,716.0 427.6,719.1 C426.5,722.2 426.3,724.5 424.4,728.7 C422.5,732.8 419.8,736.9 417.2,742.0 C414.5,747.1 411.9,752.1 409.5,757.3 C407.1,762.4 405.4,766.5 403.8,770.6 C402.3,774.7 401.5,778.4 401.0,780.1"/>
<path d="M423.8,729.6 C425.0,730.1 426.9,731.4 430.5,732.5 C434.1,733.5 439.4,735.5 443.8,735.3 C448.3,735.2 449.8,731.9 455.3,731.5 C460.8,731.2 469.9,732.6 474.3,733.4 C478.8,734.3 477.7,734.9 480.1,736.3 C482.5,737.7 485.3,740.9 487.7,741.0 C490.1,741.2 491.3,738.6 493.4,737.2 C495.5,735.9 497.1,733.9 499.1,733.4 C501.2,732.9 503.3,732.8 504.8,734.4 C506.4,735.9 506.8,739.1 507.7,742.0 C508.6,744.9 508.4,749.6 509.6,750.6 C510.8,751.6 512.1,748.9 514.4,747.7 C516.6,746.5 518.6,745.8 522.0,743.9 C525.4,742.0 530.4,738.4 533.4,737.2 C536.5,736.0 537.1,735.7 539.2,737.2 C541.2,738.8 543.5,742.9 544.9,745.8 C546.2,748.7 547.1,751.6 546.8,753.4 C546.4,755.3 541.9,756.1 543.0,756.3 C544.0,756.5 549.1,755.8 552.5,754.4 C555.9,753.0 559.3,750.2 562.0,748.7 C564.8,747.1 565.7,746.2 567.8,745.8 C569.8,745.5 572.6,747.5 573.5,746.8 C574.3,746.1 573.2,743.9 572.5,742.0 C571.8,740.1 569.1,738.5 569.7,736.3 C570.2,734.1 572.8,731.6 575.4,729.6 C578.0,727.6 581.2,725.7 584.0,725.2 C586.7,724.7 588.1,727.7 590.6,726.8 C593.2,725.8 595.9,720.4 598.3,720.1 C600.7,719.7 602.9,721.9 604.0,724.8 C605.0,727.8 602.9,732.9 604.0,736.3 C605.0,739.7 608.0,741.5 609.7,743.9 C611.4,746.3 613.5,747.9 613.5,749.6 C613.5,751.3 610.4,752.1 609.7,753.4 C609.0,754.8 611.1,754.8 609.7,757.3 C608.3,759.7 605.5,764.0 602.1,766.8 C598.6,769.5 595.1,770.6 590.6,772.5 C586.2,774.4 580.4,775.6 577.3,777.3 C574.2,779.0 574.5,780.3 573.5,782.0 C572.4,783.7 574.0,785.6 571.6,786.8 C569.2,788.0 561.8,787.3 560.1,788.7 C558.4,790.1 562.7,793.1 562.0,794.4 C561.3,795.8 561.5,795.0 556.3,796.3 C551.2,797.7 538.8,805.1 533.4,802.0 C528.1,799.0 530.2,782.6 526.8,779.2 C523.3,775.7 518.7,781.3 514.4,783.0 C510.1,784.7 506.0,787.3 502.9,788.7 C499.9,790.1 499.6,790.1 497.2,790.6 C494.8,791.1 493.0,790.9 489.6,791.6 C486.2,792.3 480.2,791.9 478.2,794.4 C476.1,797.0 477.1,802.6 478.2,805.9 C479.2,809.1 482.8,810.3 483.9,812.5 C484.9,814.8 485.6,816.0 483.9,818.3 C482.2,820.5 476.4,823.0 474.3,824.9 C472.3,826.8 472.3,826.5 472.4,828.7 C472.6,831.0 474.3,834.4 475.3,837.3 C476.3,840.2 478.7,842.5 478.2,844.9 C477.6,847.3 474.7,849.3 472.4,850.7 C470.2,852.0 467.5,851.5 465.8,852.6 C464.1,853.6 463.4,855.0 462.9,856.4 C462.4,857.7 462.9,859.3 462.9,860.0"/>
<path d="M455.3,620.0 C456.7,621.0 459.0,623.0 462.9,625.7 C466.9,628.5 473.1,633.4 477.2,635.3 C481.3,637.1 483.7,637.2 485.8,636.2 C487.8,635.2 487.3,631.8 488.6,629.5 C490.0,627.3 490.8,624.0 493.4,623.8 C496.0,623.6 501.6,625.8 502.9,628.6 C504.3,631.3 500.5,636.3 501.0,639.1 C501.5,641.8 502.7,643.8 505.8,643.8 C508.9,643.8 515.3,638.2 518.2,639.1 C521.1,639.9 521.3,645.8 522.0,648.6 C522.7,651.3 523.0,652.1 522.0,654.3 C521.0,656.5 517.7,658.2 516.3,661.0 C514.9,663.7 513.0,667.7 514.4,669.6 C515.7,671.5 520.8,671.3 523.9,671.5 C527.0,671.6 527.9,673.1 531.5,670.5 C535.1,667.9 540.5,659.9 543.9,657.2 C547.4,654.4 548.7,656.3 550.6,655.3 C552.5,654.2 553.7,652.1 554.4,651.5"/>
<path d="M554.4,651.5 C554.6,650.3 554.0,647.7 555.4,644.8 C556.7,641.9 560.8,637.8 562.0,635.3 C563.2,632.7 562.4,632.5 562.0,630.5 C561.7,628.4 558.4,625.7 560.1,623.8 C561.8,621.9 569.5,620.7 571.6,620.0"/>
<path d="M554.4,651.5 C556.5,652.3 560.5,654.2 565.8,656.2 C571.2,658.3 580.4,662.4 584.0,662.9 C587.6,663.4 583.6,660.1 585.9,659.1 C588.1,658.0 591.7,657.3 596.3,657.2 C601.0,657.0 606.4,659.2 611.6,658.1 C616.7,657.1 619.8,653.7 624.9,651.5 C630.1,649.2 637.3,646.8 640.0,645.7"/>
<path d="M609.7,755.3 C611.1,754.7 613.9,752.7 617.3,751.5 C620.7,750.3 624.7,749.9 628.8,748.7 C632.8,747.5 638.0,745.5 640.0,744.9"/>
<path d="M571.6,786.8 C571.9,787.8 571.4,790.8 573.5,792.5 C575.5,794.2 580.9,793.8 583.0,796.3 C585.1,798.9 584.7,802.5 584.9,806.8 C585.1,811.1 583.3,816.7 584.0,820.2 C584.6,823.6 584.8,823.6 588.7,825.9 C592.7,828.1 599.7,831.5 605.9,832.5 C612.1,833.6 619.6,832.6 623.0,831.6 C626.5,830.6 624.9,828.9 624.9,826.8 C624.9,824.8 622.9,823.1 623.0,820.2 C623.2,817.2 624.9,813.9 625.9,810.6 C626.9,807.4 626.2,803.6 628.8,802.0 C631.3,800.5 638.0,802.0 640.0,802.0"/>
<path d="M640.0,644.8 C643.1,643.3 653.0,639.3 657.2,636.8 C661.3,634.2 660.5,632.5 662.9,630.5 C665.3,628.5 667.8,627.3 670.5,625.7 C673.2,624.2 675.9,622.9 678.1,621.9 C680.4,620.9 682.0,620.3 682.9,620.0"/>
<path d="M681.0,621.0 C681.2,621.3 680.9,621.3 681.9,622.9 C683.0,624.4 686.2,627.5 686.7,629.5 C687.2,631.6 686.2,632.8 684.8,634.3 C683.4,635.8 679.8,636.7 679.1,638.1 C678.4,639.5 679.6,641.0 681.0,641.9 C682.4,642.8 685.3,641.7 686.7,643.3 C688.1,644.8 687.9,648.3 688.6,650.5 C689.3,652.7 689.3,653.6 690.5,655.3 C691.7,657.0 695.6,658.5 695.3,660.0 C694.9,661.6 690.3,662.5 688.6,663.8 C686.9,665.2 687.0,665.4 685.8,667.7 C684.5,669.9 681.9,674.2 681.9,676.2 C681.9,678.3 684.0,677.7 685.8,679.1 C687.5,680.5 690.4,683.0 691.5,683.9"/>
<path d="M691.5,683.9 C692.8,683.6 695.3,683.9 699.1,682.5 C702.9,681.2 708.0,678.2 712.4,676.2 C716.9,674.2 719.9,674.0 723.9,671.5 C727.8,668.9 731.3,663.3 734.4,661.9 C737.4,660.6 738.1,663.9 741.0,663.8 C743.9,663.8 747.8,663.6 750.6,661.6 C753.3,659.5 753.9,655.1 756.3,652.4 C758.7,649.7 761.3,648.7 763.9,646.7 C766.5,644.6 767.5,640.8 770.6,641.0 C773.7,641.1 778.1,646.3 781.1,647.6 C784.0,649.0 784.0,648.9 786.8,648.6 C789.5,648.3 793.6,647.1 796.3,645.7 C799.1,644.4 798.8,641.7 802.0,641.0 C805.3,640.3 812.4,639.9 814.4,641.9 C816.5,644.0 814.2,649.1 813.5,652.4 C812.8,655.7 812.3,657.5 810.6,660.0 C808.9,662.6 805.3,664.5 803.9,666.7 C802.6,668.9 801.6,670.9 803.0,672.4 C804.4,674.0 808.5,674.6 811.6,675.3 C814.7,676.0 816.7,676.6 820.1,676.2 C823.6,675.9 826.0,674.2 830.6,673.4 C835.3,672.5 842.4,672.8 845.9,671.5 C849.3,670.1 848.3,667.1 849.7,665.8 C851.1,664.4 851.4,663.0 853.5,663.8 C855.6,664.7 858.4,669.0 861.1,670.5 C863.9,672.1 865.4,672.3 868.8,672.4 C872.1,672.5 878.0,671.3 880.0,671.1"/>
<path d="M691.5,683.9 C690.8,685.1 688.7,688.3 687.7,690.5 C686.6,692.8 685.2,694.2 685.8,696.3 C686.3,698.3 687.8,699.6 690.5,702.0 C693.3,704.4 698.8,707.2 701.0,709.6 C703.2,712.0 703.3,713.6 702.9,715.3 C702.6,717.0 700.8,718.1 699.1,719.1 C697.4,720.2 694.9,721.0 693.4,721.0 C691.8,721.0 691.7,719.3 690.5,719.1 C689.3,719.0 687.6,718.0 686.7,720.1 C685.8,722.1 687.0,729.4 685.8,730.6 C684.5,731.8 682.4,727.6 680.0,726.8 C677.6,725.9 675.2,725.5 672.4,725.8 C669.7,726.1 666.8,727.5 664.8,728.7 C662.7,729.9 661.5,730.9 661.0,732.5 C660.5,734.0 662.3,736.0 661.9,737.2 C661.6,738.4 660.9,738.6 659.1,739.1 C657.2,739.7 653.5,739.2 651.4,740.1 C649.4,741.0 649.7,743.2 647.6,743.9 C645.6,744.6 641.4,743.9 640.0,743.9"/>
<path d="M880.0,684.8 C879.0,685.2 876.2,685.2 874.5,686.7 C872.8,688.3 871.7,691.5 870.7,693.4 C869.6,695.3 868.6,695.7 868.8,697.2 C868.9,698.7 870.9,700.1 871.6,702.0 C872.3,703.9 871.9,706.0 872.6,707.7 C873.3,709.4 874.1,710.5 875.4,711.5 C876.8,712.5 879.2,713.1 880.0,713.4"/>
<path d="M640.0,803.0 C641.4,803.1 645.7,802.0 647.6,803.4 C649.5,804.8 649.8,807.6 650.5,810.6 C651.2,813.6 649.9,818.1 651.4,820.2 C653.0,822.2 656.0,820.9 659.1,822.1 C662.2,823.3 665.5,824.9 668.6,826.8 C671.7,828.7 673.8,830.1 676.2,832.5 C678.6,835.0 680.2,837.6 681.9,840.2 C683.7,842.7 686.4,845.1 685.8,846.8 C685.1,848.6 680.4,848.3 678.1,849.7 C675.9,851.1 675.8,854.5 673.4,854.5 C671.0,854.5 668.0,851.1 664.8,849.7 C661.5,848.3 658.2,846.8 655.3,846.8 C652.3,846.8 651.0,847.8 648.6,849.7 C646.2,851.6 643.5,855.5 641.9,857.3 C640.4,859.2 640.3,859.5 640.0,860.0"/>
<path d="M685.8,846.8 C686.8,845.8 689.1,843.2 691.5,841.1 C693.9,839.1 696.5,837.8 699.1,835.4 C701.7,833.0 703.4,829.8 705.8,827.8 C708.2,825.7 710.0,824.5 712.4,824.0 C714.8,823.5 716.7,824.5 719.1,824.9 C721.5,825.3 722.9,827.1 725.8,826.3 C728.7,825.4 732.1,821.8 735.3,820.2 C738.6,818.5 739.8,817.7 743.9,817.3 C748.0,816.9 752.2,817.6 758.2,817.9 C764.2,818.1 770.4,818.4 777.3,818.6 C784.1,818.9 790.5,819.6 796.3,819.2 C802.1,818.8 804.9,817.0 809.7,816.3 C814.5,815.7 819.2,815.1 823.0,815.4 C826.8,815.7 825.8,818.1 830.6,818.3 C835.4,818.4 842.8,817.0 849.7,816.3 C856.6,815.7 864.3,815.3 868.8,814.4 C873.2,813.6 873.1,813.3 874.5,811.6 C875.8,809.9 876.0,807.1 876.4,804.9 C876.7,802.7 875.7,800.9 876.4,799.2 C877.0,797.5 879.3,796.1 880.0,795.4"/>
<path d="M745.8,817.3 C746.5,818.8 747.9,822.3 749.6,825.9 C751.3,829.5 752.8,833.9 755.3,837.3 C757.9,840.7 760.6,842.4 763.9,844.9 C767.2,847.5 770.4,849.7 773.4,851.6 C776.5,853.5 779.3,853.9 781.1,855.4 C782.8,856.9 782.6,859.2 783.0,860.0"/>
<path d="M924.2,620.0 C923.1,621.0 919.9,623.3 918.1,625.7 C916.3,628.1 914.8,630.4 914.3,633.3 C913.8,636.3 914.1,639.0 915.3,641.9 C916.5,644.8 918.6,647.3 921.0,649.5 C923.4,651.8 928.1,652.4 928.6,654.3 C929.1,656.2 926.8,657.8 923.8,660.0 C920.9,662.3 915.0,664.3 912.4,666.7 C909.8,669.1 910.9,671.5 909.5,673.4 C908.2,675.3 906.3,676.2 904.8,677.2 C903.2,678.2 903.2,679.0 901.0,679.1 C898.7,679.2 895.0,678.5 892.4,677.6 C889.8,676.6 888.9,674.9 886.7,673.8 C884.4,672.7 881.2,671.9 880.0,671.5"/>
<path d="M880.0,684.8 L891.4,679.1"/>
<path d="M909.5,673.4 C911.1,674.6 915.2,678.6 918.1,680.0 C921.0,681.5 922.3,681.1 925.8,681.4 C929.2,681.6 933.6,682.0 937.2,681.4 C940.8,680.8 942.7,678.3 945.8,678.1 C948.9,678.0 951.4,680.7 954.3,680.6 C957.3,680.5 957.5,678.7 962.0,677.6 C966.4,676.4 974.8,675.6 979.1,674.3 C983.4,673.1 984.6,672.6 985.8,670.5 C987.0,668.5 984.3,665.5 985.8,662.9 C987.3,660.3 989.7,658.4 994.4,656.2 C999.0,654.0 1006.9,652.6 1011.5,650.5 C1016.2,648.4 1016.3,646.3 1020.1,644.8 C1023.9,643.2 1029.6,643.5 1032.5,641.9 C1035.4,640.4 1034.3,637.8 1036.3,636.2 C1038.4,634.6 1041.2,633.8 1043.9,633.0 C1046.7,632.1 1048.1,632.7 1051.6,631.4 C1055.0,630.1 1059.6,626.7 1063.0,625.7 C1066.4,624.7 1067.2,624.5 1070.6,625.7 C1074.1,626.9 1079.3,630.7 1082.1,632.4 C1084.8,634.0 1084.3,634.3 1085.9,634.9 C1087.4,635.5 1089.4,634.8 1090.6,635.6 C1091.8,636.5 1090.3,638.2 1092.5,639.6 C1094.8,641.1 1102.2,641.2 1103.0,643.8 C1103.9,646.5 1096.6,651.7 1097.3,654.3 C1098.0,656.9 1103.8,656.8 1106.8,658.1 C1109.9,659.5 1112.1,660.6 1114.5,661.9 C1116.8,663.3 1119.0,665.1 1120.0,665.8"/>
<path d="M880.0,713.4 C881.4,713.6 884.4,712.3 887.6,714.4 C890.9,716.4 894.3,720.6 898.1,724.8 C901.9,729.1 907.6,734.8 908.6,738.2 C909.6,741.6 905.0,741.2 903.8,743.9 C902.6,746.7 903.0,750.7 901.9,753.4 C900.9,756.2 898.8,756.8 898.1,759.2 C897.4,761.6 898.3,764.4 898.1,766.8 C897.9,769.2 898.7,770.1 897.2,772.5 C895.6,774.9 892.3,778.2 889.5,780.1 C886.8,782.0 883.5,781.8 881.9,783.0 C880.4,784.2 881.0,784.6 881.0,786.8 C880.9,789.0 881.4,793.8 881.5,795.4"/>
<path d="M400.0,780.1 C398.5,782.9 394.7,789.5 391.6,795.4 C388.6,801.2 384.9,807.7 383.0,812.5 C381.1,817.3 382.0,818.6 381.1,822.1 C380.3,825.5 378.8,828.2 378.3,831.6 C377.8,835.0 379.8,837.4 378.3,841.1 C376.7,844.9 372.1,849.6 369.7,852.6 C367.3,855.5 366.6,856.0 364.9,857.3 C363.2,858.7 361.0,859.5 360.2,860.0"/>
<path d="M359.2,860.0 C357.7,861.2 353.2,864.3 350.6,866.7 C348.1,869.1 345.3,871.6 344.9,873.3 C344.6,875.1 347.9,874.8 348.7,876.2 C349.6,877.6 350.4,879.8 349.7,881.0 C349.0,882.2 346.6,883.0 344.9,882.9 C343.2,882.7 343.6,879.5 340.1,880.0 C336.7,880.5 330.5,883.7 325.8,885.7 C321.2,887.8 318.7,890.8 314.4,891.5 C310.1,892.1 303.7,889.2 302.0,889.5 C300.3,889.9 303.0,891.6 304.9,893.4 C306.8,895.1 310.6,897.0 312.5,899.1 C314.4,901.1 314.5,902.7 315.4,904.8 C316.2,906.9 316.9,907.3 317.3,910.5 C317.6,913.8 317.6,919.0 317.3,922.9 C316.9,926.9 316.9,928.7 315.4,932.4 C313.8,936.2 310.9,940.1 308.7,943.9 C306.5,947.7 305.0,950.0 303.0,953.4 C300.9,956.8 298.6,959.5 297.3,962.9 C295.9,966.4 295.3,969.0 295.3,972.5 C295.3,975.9 296.8,977.7 297.3,982.0 C297.7,986.3 298.3,991.8 297.6,996.3 C296.9,1000.8 294.9,1003.4 293.4,1006.8 C292.0,1010.2 291.7,1012.4 289.6,1015.4 C287.6,1018.3 283.7,1020.4 282.0,1023.0 C280.3,1025.6 280.1,1026.6 280.1,1029.7 C280.1,1032.7 281.5,1037.7 282.0,1040.1 C282.5,1042.5 283.1,1041.3 283.0,1043.0 C282.8,1044.7 279.2,1048.4 281.0,1049.7 C282.9,1051.0 288.5,1049.6 293.4,1050.2 C298.4,1050.9 303.5,1051.9 308.7,1053.5 C313.8,1055.1 317.9,1059.4 322.0,1059.2 C326.2,1059.0 326.4,1053.6 331.6,1052.5 C336.7,1051.5 343.4,1054.0 350.6,1053.5 C357.8,1053.0 367.1,1051.6 371.6,1049.7 C376.1,1047.8 374.9,1046.1 375.4,1043.0 C375.9,1039.9 374.6,1036.1 374.5,1032.5 C374.3,1028.9 373.6,1026.2 374.5,1023.0 C375.3,1019.7 377.0,1017.3 379.2,1014.4 C381.5,1011.5 383.1,1011.2 386.8,1006.8 C390.6,1002.3 397.6,992.7 400.0,989.6"/>
<path d="M316.3,909.9 C318.4,909.9 323.3,911.0 327.8,909.9 C332.2,908.9 337.5,904.8 341.1,904.2 C344.7,903.6 346.1,905.4 347.8,906.7 C349.5,908.0 349.4,908.9 350.6,911.5 C351.8,914.0 352.9,918.3 354.4,921.0 C356.0,923.7 356.8,926.7 359.2,926.7 C361.6,926.7 364.9,923.6 367.8,921.0 C370.7,918.4 372.7,915.2 375.4,912.4 C378.2,909.7 380.3,907.0 383.0,905.8 C385.8,904.5 387.6,905.4 390.7,905.8 C393.7,906.1 398.3,907.3 400.0,907.7"/>
<path d="M400.0,893.4 L398.3,898.1"/>
<path d="M380.2,1023.9 C381.4,1022.2 384.8,1016.8 386.8,1014.4 C388.9,1012.0 390.8,1010.6 391.6,1010.6 C392.5,1010.6 392.5,1012.7 391.6,1014.4 C390.8,1016.1 388.9,1018.4 386.8,1020.1 C384.8,1021.8 381.4,1023.3 380.2,1023.9"/>
<path d="M400.0,993.4 C399.5,994.8 397.3,998.3 397.3,1001.1 C397.3,1003.8 399.5,1007.3 400.0,1008.7"/>
<path d="M339.2,1060.2 C340.6,1059.8 342.2,1058.8 346.8,1058.3 C351.4,1057.7 360.8,1057.1 364.9,1057.3 C369.0,1057.5 368.3,1058.2 369.7,1059.2 C371.1,1060.2 371.7,1063.5 372.5,1063.0 C373.4,1062.5 371.9,1058.1 374.5,1056.3 C377.0,1054.6 383.6,1055.0 386.8,1053.5 C390.1,1051.9 390.2,1049.7 392.6,1047.8 C394.9,1045.9 398.7,1043.9 400.0,1043.0"/>
<path d="M339.2,1060.2 C339.9,1061.5 340.9,1064.4 343.0,1067.8 C345.1,1071.2 348.4,1075.6 350.6,1079.2 C352.9,1082.8 354.5,1084.1 355.4,1087.8 C356.3,1091.5 355.4,1097.8 355.4,1100.0"/>
<path d="M462.9,860.0 C461.9,860.7 461.6,863.1 457.2,863.8 C452.7,864.5 443.6,863.5 438.1,863.8 C432.6,864.2 429.8,864.5 426.7,865.7 C423.6,866.9 423.0,868.1 421.0,870.5 C418.9,872.9 417.3,876.5 415.3,879.1 C413.2,881.6 411.6,883.4 409.5,884.8 C407.5,886.2 405.4,885.5 403.8,886.7 C402.3,887.9 401.6,889.4 401.0,891.5 C400.3,893.5 400.3,895.0 400.4,898.1 C400.5,901.2 400.9,905.4 401.5,908.6 C402.1,911.9 401.7,914.2 403.8,916.2 C405.9,918.3 410.3,919.1 413.3,920.0 C416.4,921.0 418.1,921.6 421.0,921.4 C423.9,921.2 426.8,918.3 429.5,919.1 C432.3,919.9 433.6,923.4 436.2,925.8 C438.8,928.1 443.5,930.5 443.8,932.1 C444.2,933.6 441.2,933.7 438.1,934.3 C435.0,935.0 429.4,935.2 426.7,935.9 C423.9,936.6 423.3,937.2 422.9,938.2 C422.5,939.1 424.1,940.5 424.4,941.0"/>
<path d="M640.0,860.0 C639.5,861.0 637.3,864.2 637.3,865.7 C637.3,867.3 639.5,868.1 640.0,868.6"/>
<path d="M640.0,890.5 C639.0,891.0 636.2,891.6 634.5,893.4 C632.8,895.1 633.4,896.8 630.7,900.0 C627.9,903.3 623.0,909.4 619.2,911.5 C615.4,913.5 612.3,910.8 609.7,911.5 C607.1,912.2 606.3,913.6 604.9,915.3 C603.6,917.0 605.3,918.3 602.1,921.0 C598.8,923.7 592.3,927.1 586.8,930.5 C581.3,934.0 575.7,937.1 571.6,940.1 C567.4,943.0 566.2,944.3 563.9,946.7 C561.7,949.1 559.5,951.5 559.2,953.4 C558.8,955.3 560.5,956.2 562.0,957.2 C563.6,958.2 565.7,957.4 567.8,959.1 C569.8,960.8 571.6,963.8 573.5,966.8 C575.4,969.7 576.3,973.3 578.2,975.3 C580.1,977.4 581.6,977.3 584.0,978.2 C586.4,979.0 588.7,980.6 591.6,980.1 C594.5,979.6 597.2,976.4 600.2,975.3 C603.1,974.2 605.2,974.0 607.8,974.0 C610.4,974.0 613.4,973.9 614.5,975.3 C615.5,976.8 613.2,980.1 613.5,982.0 C613.8,983.9 615.3,986.2 616.4,985.8 C617.4,985.4 617.7,980.9 619.2,979.7 C620.8,978.5 622.5,978.4 624.9,979.1 C627.3,979.9 630.5,982.0 632.6,983.9 C634.6,985.8 635.7,987.9 636.4,989.6 C637.1,991.3 635.7,992.6 636.4,993.4 C637.0,994.3 639.3,994.2 640.0,994.4"/>
<path d="M591.6,980.1 C590.2,980.8 585.7,981.8 584.0,983.9 C582.2,986.0 583.1,988.4 582.0,991.5 C581.0,994.6 577.7,998.7 578.2,1001.1 C578.8,1003.5 581.3,1003.2 584.9,1004.9 C588.5,1006.6 595.9,1008.2 598.3,1010.6 C600.7,1013.0 596.9,1015.8 598.3,1018.2 C599.6,1020.6 604.0,1022.1 605.9,1023.9 C607.8,1025.8 609.1,1027.0 608.7,1028.7 C608.4,1030.4 605.5,1032.8 604.0,1033.5 C602.4,1034.2 601.9,1033.5 600.2,1032.5 C598.4,1031.5 596.2,1029.5 594.4,1027.8 C592.7,1026.0 593.4,1024.2 590.6,1023.0 C587.9,1021.8 583.0,1022.8 579.2,1021.1 C575.4,1019.4 572.4,1014.5 569.7,1013.5 C566.9,1012.4 567.4,1014.8 563.9,1015.4 C560.5,1015.9 553.7,1015.6 550.6,1016.3 C547.5,1017.0 549.2,1018.1 546.8,1019.2 C544.4,1020.2 541.0,1020.5 537.3,1022.0 C533.5,1023.6 529.2,1026.4 525.8,1027.8 C522.4,1029.1 520.9,1028.5 518.2,1029.7 C515.4,1030.9 511.9,1033.6 510.6,1034.4"/>
<path d="M499.9,1035.6 C501.8,1035.7 506.9,1035.7 510.6,1036.3 C514.2,1037.0 518.6,1037.5 520.1,1039.2 C521.6,1040.9 520.2,1043.5 519.1,1045.9 C518.1,1048.3 517.5,1050.0 514.4,1052.5 C511.2,1055.1 503.9,1058.6 501.6,1060.0"/>
<path d="M510.0,1094.1 C511.3,1094.0 515.6,1094.1 517.2,1093.5 C518.9,1092.9 517.9,1090.7 519.1,1090.7 C520.3,1090.7 521.3,1092.8 523.9,1093.5 C526.5,1094.2 529.0,1094.8 533.4,1094.5 C537.9,1094.1 543.9,1090.6 548.7,1091.6 C553.5,1092.6 558.1,1098.5 560.1,1100.0"/>
<path d="M423.8,940.0 C424.5,940.3 426.5,940.9 427.7,941.9 C428.9,942.9 428.8,944.2 430.5,945.7 C432.2,947.3 434.6,948.9 437.2,950.5 C439.8,952.0 442.8,952.9 444.8,954.3 C446.9,955.7 447.8,957.1 448.6,958.1 C449.5,959.1 448.2,960.2 449.6,960.0 C451.0,959.8 456.1,956.7 456.3,957.2 C456.4,957.6 453.3,960.7 450.5,962.4 C447.8,964.1 444.4,965.7 441.0,966.7 C437.6,967.6 435.2,967.4 431.5,967.6 C427.7,967.9 423.1,967.6 420.0,968.1 C416.9,968.6 416.2,969.0 414.3,970.5 C412.4,972.0 411.6,973.8 409.5,976.2 C407.5,978.6 405.1,981.1 402.9,983.8 C400.6,986.6 399.2,988.7 397.2,991.5 C395.1,994.2 393.5,996.3 391.4,999.1 C389.4,1001.8 387.8,1004.2 385.7,1006.7 C383.7,1009.2 381.0,1011.8 380.0,1012.9"/>
<path d="M450.5,962.4 C449.7,963.1 448.2,964.6 445.8,966.2 C443.4,967.8 440.8,970.3 437.2,971.5 C433.6,972.7 429.5,971.9 425.8,972.9 C422.0,973.8 419.1,974.9 416.2,976.7 C413.3,978.5 411.8,980.6 409.5,982.9 C407.3,985.2 405.7,987.3 403.8,989.6 C401.9,991.8 400.3,993.2 399.1,995.3 C397.9,997.3 397.1,998.6 397.2,1001.0 C397.2,1003.4 398.6,1006.0 399.5,1008.6 C400.5,1011.3 401.1,1014.4 402.4,1015.8 C403.7,1017.1 405.6,1015.9 406.7,1016.3 C407.8,1016.6 408.4,1016.7 408.6,1017.7 C408.8,1018.7 407.3,1020.2 407.6,1022.0 C408.0,1023.8 409.1,1025.5 410.5,1027.7 C411.9,1029.8 414.4,1032.8 415.3,1033.9"/>
<path d="M434.3,972.4 C434.5,972.7 434.6,973.5 435.3,974.3 C436.0,975.1 438.5,975.3 438.1,976.7 C437.8,978.1 435.3,979.6 433.4,981.9 C431.5,984.3 429.4,986.8 427.7,989.6 C425.9,992.3 425.2,994.4 423.8,997.2 C422.5,999.9 421.4,1002.2 420.0,1004.8 C418.7,1007.4 418.1,1009.1 416.2,1011.5 C414.3,1013.9 410.7,1017.0 409.5,1018.2"/>
<path d="M380.0,1054.4 C381.0,1054.2 384.0,1054.5 385.7,1053.4 C387.4,1052.4 387.1,1050.9 389.5,1048.7 C391.9,1046.4 395.6,1043.4 399.1,1041.0 C402.5,1038.6 405.7,1036.6 408.6,1035.3 C411.5,1034.0 413.6,1033.7 415.3,1033.9 C416.9,1034.1 417.0,1035.0 417.6,1036.3 C418.3,1037.6 417.8,1039.9 419.1,1041.0 C420.4,1042.1 421.5,1042.9 424.8,1042.5 C428.1,1042.0 433.6,1038.6 437.2,1038.6 C440.8,1038.6 441.9,1041.5 444.8,1042.5 C447.7,1043.4 451.0,1044.1 453.4,1043.9 C455.8,1043.6 456.4,1043.3 458.2,1041.0 C459.9,1038.8 460.5,1035.4 462.9,1031.5 C465.3,1027.6 468.9,1020.8 471.5,1019.1 C474.1,1017.4 474.8,1020.9 477.2,1022.0 C479.6,1023.0 481.8,1025.0 484.8,1024.8 C487.9,1024.7 492.7,1019.8 494.4,1021.0 C496.0,1022.2 493.6,1029.1 493.9,1031.5 C494.2,1033.9 495.2,1033.7 496.3,1034.4 C497.4,1035.0 499.3,1035.1 500.0,1035.3"/>
<path d="M338.6,1060.0 C339.1,1061.0 339.6,1063.1 341.4,1065.7 C343.2,1068.3 346.0,1070.4 348.6,1074.3 C351.2,1078.2 354.4,1083.0 355.7,1087.2 C357.0,1091.3 356.1,1093.8 355.7,1097.2 C355.3,1100.5 355.1,1103.2 353.6,1105.8 C352.0,1108.3 349.1,1109.4 347.2,1111.5 C345.2,1113.5 343.1,1115.5 342.9,1117.2 C342.6,1118.9 343.7,1120.1 345.7,1120.8 C347.8,1121.4 351.0,1121.5 354.3,1120.8 C357.7,1120.0 360.5,1117.5 364.3,1116.5 C368.2,1115.4 371.6,1115.6 375.8,1115.0 C379.9,1114.5 383.1,1114.5 387.2,1113.6 C391.3,1112.7 395.5,1111.5 398.6,1110.0 C401.7,1108.6 402.2,1107.7 404.3,1105.8 C406.5,1103.8 407.4,1100.9 410.8,1099.3 C414.1,1097.8 418.9,1096.9 422.9,1097.2 C426.9,1097.4 429.3,1099.5 432.9,1100.7 C436.5,1102.0 439.9,1103.7 442.9,1104.3 C446.0,1105.0 448.4,1104.8 450.1,1104.3 C451.8,1103.8 452.0,1102.9 452.2,1101.5 C452.5,1100.0 452.4,1097.5 451.5,1096.5 C450.6,1095.4 448.5,1096.1 447.2,1095.7 C445.9,1095.4 443.9,1095.1 444.4,1094.3 C444.9,1093.5 448.3,1093.1 450.1,1091.5 C451.9,1089.8 453.0,1086.2 454.4,1085.0 C455.8,1083.9 457.6,1084.1 458.0,1085.0 C458.3,1085.9 456.3,1088.4 456.5,1090.0 C456.8,1091.7 458.2,1093.3 459.4,1094.3 C460.5,1095.3 462.8,1095.0 463.0,1095.7 C463.1,1096.5 460.6,1096.8 460.1,1098.6 C459.6,1100.4 459.6,1103.6 460.1,1105.8 C460.6,1107.9 460.6,1109.1 463.0,1110.8 C465.3,1112.4 469.1,1113.5 473.0,1115.0 C476.8,1116.6 480.5,1118.4 484.4,1119.3 C488.3,1120.2 494.7,1119.4 494.4,1120.0 C494.2,1120.7 489.4,1123.4 483.0,1122.9 C476.5,1122.4 464.8,1118.1 458.7,1117.2 C452.5,1116.3 450.7,1118.4 448.7,1117.9 C446.6,1117.4 450.6,1116.0 447.2,1114.3 C443.9,1112.7 435.6,1110.8 430.1,1108.6 C424.5,1106.4 419.5,1102.9 416.5,1102.2 C413.5,1101.4 411.7,1102.3 413.6,1104.3 C415.6,1106.4 422.2,1109.9 427.2,1113.6 C432.2,1117.3 437.7,1121.3 441.5,1125.1 C445.4,1128.8 447.0,1130.6 448.7,1134.3 C450.3,1138.1 449.9,1141.2 450.8,1145.8 C451.7,1150.4 453.0,1154.7 453.7,1160.1 C454.3,1165.5 455.2,1170.7 454.4,1175.8 C453.6,1181.0 451.2,1183.3 449.4,1188.7 C447.6,1194.1 446.8,1200.2 444.4,1205.8 C441.9,1211.5 438.4,1216.1 435.8,1220.1 C433.2,1224.1 432.0,1226.1 430.1,1228.0 C428.1,1229.9 425.1,1229.7 425.1,1230.8 C425.1,1232.0 426.9,1233.3 430.1,1234.4 C433.3,1235.6 440.4,1236.3 442.9,1237.3 C445.5,1238.3 444.1,1239.5 444.4,1240.0"/>
<path d="M501.6,1060.0 C499.8,1061.0 494.9,1063.1 491.6,1065.7 C488.2,1068.3 484.4,1071.6 483.0,1074.3 C481.6,1077.0 483.1,1078.3 483.7,1080.7 C484.3,1083.2 484.9,1086.3 486.6,1087.9 C488.2,1089.4 490.3,1088.3 493.0,1089.3 C495.7,1090.3 498.5,1092.7 501.6,1093.6 C504.6,1094.5 508.5,1094.2 510.0,1094.3"/>
<path d="M640.0,870.5 C641.4,871.3 645.6,873.5 647.6,875.3 C649.7,877.0 651.4,878.3 651.4,880.0 C651.4,881.7 649.7,883.1 647.6,884.8 C645.6,886.5 641.4,888.7 640.0,889.5"/>
<path d="M783.0,860.0 C784.7,861.0 788.9,864.2 792.5,865.7 C796.1,867.3 800.9,866.9 803.0,868.6 C805.0,870.3 804.3,872.7 803.9,875.3 C803.6,877.8 801.8,879.4 801.1,882.9 C800.4,886.3 799.6,890.9 800.1,894.3 C800.6,897.7 801.9,899.4 803.9,901.9 C806.0,904.5 808.8,906.2 811.6,908.6 C814.3,911.0 815.8,913.9 819.2,915.3 C822.6,916.7 826.5,918.3 830.6,916.2 C834.7,914.2 840.5,907.3 842.1,903.8 C843.6,900.4 839.2,899.2 839.2,897.2 C839.2,895.1 839.8,894.0 842.1,892.4 C844.3,890.9 848.2,889.3 851.6,888.6 C855.0,887.9 859.4,886.5 861.1,888.6 C862.8,890.7 860.8,897.1 861.1,900.0 C861.5,902.9 861.7,904.0 863.0,904.8 C864.4,905.6 867.0,906.3 868.8,904.2 C870.5,902.2 871.7,896.9 872.6,893.4 C873.4,889.9 874.5,887.0 873.5,884.8 C872.5,882.6 868.6,882.0 866.8,881.0 C865.1,879.9 863.8,880.1 864.0,879.1 C864.2,878.0 864.9,875.3 867.8,875.3 C870.7,875.3 877.8,878.4 880.0,879.1"/>
<path d="M819.2,915.3 C818.5,916.3 815.9,918.8 815.4,921.0 C814.9,923.2 815.3,925.4 816.3,927.7 C817.4,929.9 818.5,931.8 821.1,933.4 C823.7,934.9 827.4,935.2 830.6,936.3 C833.9,937.3 837.1,937.6 839.2,939.1 C841.3,940.7 842.1,942.8 842.1,944.8 C842.1,946.9 839.5,948.8 839.2,950.5 C838.9,952.3 838.3,953.3 840.2,954.4 C842.0,955.4 846.3,956.6 849.7,956.3 C853.1,955.9 855.8,953.0 859.2,952.5 C862.7,951.9 865.0,952.2 868.8,953.4 C872.5,954.6 878.0,958.1 880.0,959.1"/>
<path d="M640.0,993.4 C641.7,992.6 646.3,989.7 649.5,988.7 C652.8,987.6 654.7,986.0 658.1,987.7 C661.5,989.4 665.0,995.3 668.6,998.2 C672.2,1001.1 674.0,1003.0 678.1,1003.9 C682.2,1004.9 687.7,1003.9 691.5,1003.4 C695.2,1002.8 696.7,1002.3 699.1,1001.1 C701.5,999.8 702.4,996.8 704.8,996.3 C707.2,995.8 710.0,998.0 712.4,998.2 C714.8,998.4 715.6,997.4 718.2,997.6 C720.7,997.9 724.3,1000.1 726.7,999.5 C729.1,999.0 729.6,995.8 731.5,994.4 C733.4,993.0 734.5,992.6 737.2,991.5 C740.0,990.5 744.5,990.0 746.8,988.7 C749.0,987.3 748.6,985.4 749.6,983.9 C750.6,982.4 751.6,980.6 752.5,980.5 C753.3,980.3 752.3,982.0 754.4,983.0 C756.4,983.9 761.2,984.3 763.9,985.8 C766.7,987.4 768.3,989.1 769.6,991.5 C771.0,993.9 770.2,996.8 771.5,999.2 C772.9,1001.6 775.5,1002.1 777.3,1004.9 C779.0,1007.6 779.7,1011.0 781.1,1014.4 C782.4,1017.8 782.8,1021.5 784.9,1023.9 C786.9,1026.3 790.1,1027.2 792.5,1027.8 C794.9,1028.3 795.5,1028.2 798.2,1026.8 C801.0,1025.4 804.7,1021.7 807.8,1020.1 C810.8,1018.5 812.6,1018.2 815.4,1017.8 C818.1,1017.5 820.8,1017.5 823.0,1018.2 C825.2,1019.0 826.9,1020.3 827.8,1022.0 C828.6,1023.7 828.5,1025.9 827.8,1027.8 C827.1,1029.6 824.6,1031.1 824.0,1032.5 C823.3,1033.9 824.0,1034.9 824.0,1035.4"/>
<path d="M880.0,985.8 C879.0,987.2 877.4,990.5 874.5,993.4 C871.6,996.4 865.4,999.4 864.0,1002.0 C862.6,1004.6 866.5,1005.5 866.8,1007.7 C867.2,1010.0 867.3,1012.5 865.9,1014.4 C864.5,1016.3 863.2,1016.8 859.2,1018.2 C855.3,1019.6 847.7,1020.3 844.0,1022.0 C840.2,1023.7 841.0,1025.7 838.3,1027.8 C835.5,1029.8 831.5,1031.9 828.7,1033.5 C826.0,1035.0 825.6,1034.8 823.0,1036.3 C820.4,1037.9 816.5,1040.0 814.4,1042.0 C812.4,1044.1 812.4,1044.5 811.6,1047.8 C810.7,1051.0 809.8,1056.4 809.7,1060.2 C809.5,1063.9 809.8,1066.7 810.6,1068.7 C811.5,1070.8 814.3,1070.2 814.4,1071.6 C814.6,1073.0 813.1,1074.3 811.6,1076.4 C810.0,1078.4 807.6,1080.8 805.8,1083.0 C804.1,1085.3 803.4,1085.7 802.0,1088.8 C800.7,1091.8 798.9,1098.0 798.2,1100.0"/>
<path d="M880.0,879.1 C884.8,880.8 899.1,887.2 906.7,888.6 C914.2,890.0 918.2,886.3 921.9,886.7 C925.7,887.0 925.8,888.4 927.7,890.5 C929.5,892.6 930.7,896.2 932.4,898.1 C934.1,900.0 936.0,899.3 937.2,901.0 C938.4,902.7 939.3,905.4 939.1,907.7 C938.9,909.9 938.5,910.6 936.2,913.4 C934.0,916.1 927.0,919.1 926.7,922.9 C926.4,926.7 929.0,931.7 934.3,934.3 C939.6,937.0 951.4,938.1 956.3,937.8 C961.1,937.4 956.7,932.5 961.0,932.4 C965.3,932.3 976.3,935.5 980.1,937.2 C983.9,938.9 980.8,940.8 982.0,942.0 C983.2,943.2 984.9,944.6 986.8,943.9 C988.6,943.2 984.7,938.7 992.5,938.2 C1000.2,937.6 1020.5,941.4 1029.6,941.0 C1038.7,940.6 1040.4,934.2 1043.0,935.9 C1045.6,937.6 1042.7,946.9 1043.9,950.5 C1045.1,954.2 1046.6,955.1 1049.7,956.3 C1052.7,957.5 1057.5,955.6 1061.1,957.2 C1064.7,958.8 1066.4,963.7 1069.7,965.2 C1072.9,966.8 1076.3,964.5 1079.2,965.8 C1082.1,967.1 1082.4,973.5 1085.9,972.5 C1089.3,971.4 1093.1,964.2 1098.3,960.1 C1103.4,956.0 1111.2,948.9 1114.5,949.6 C1117.7,950.3 1115.4,961.0 1116.4,963.9 C1117.4,966.8 1119.3,965.5 1120.0,965.8"/>
<path d="M880.0,960.1 C880.7,960.9 883.1,962.4 883.8,964.8 C884.5,967.2 883.5,971.4 883.8,973.4 C884.2,975.5 886.2,974.4 885.7,976.3 C885.2,978.2 882.0,982.2 881.0,983.9 C879.9,985.6 880.2,985.5 880.0,985.8"/>
<path d="M444.4,1239.9 C444.8,1240.8 445.9,1241.6 446.7,1244.9 C447.5,1248.2 448.8,1253.4 448.6,1258.2 C448.4,1263.0 446.6,1267.1 445.8,1271.6 C444.9,1276.0 443.8,1280.3 443.8,1283.0 C443.8,1285.7 443.0,1286.5 445.8,1286.8 C448.5,1287.1 456.9,1284.0 459.1,1284.5 C461.3,1285.0 459.9,1288.4 458.1,1289.7 C456.4,1290.9 451.8,1289.4 449.6,1291.6 C447.3,1293.8 447.0,1297.8 445.8,1302.1 C444.5,1306.4 443.6,1312.5 442.9,1315.4 C442.2,1318.3 441.3,1316.7 441.9,1318.3 C442.6,1319.8 445.5,1321.6 446.7,1324.0 C447.9,1326.4 448.3,1328.7 448.6,1331.6 C449.0,1334.5 448.6,1338.5 448.6,1340.0"/>
<path d="M447.7,1262.0 C449.0,1262.4 452.9,1263.6 455.3,1263.9 C457.7,1264.3 458.9,1263.1 461.0,1263.9 C463.1,1264.8 464.0,1266.1 466.7,1268.7 C469.5,1271.3 473.8,1277.2 476.3,1278.2 C478.7,1279.3 477.7,1274.4 480.1,1274.4 C482.5,1274.4 486.8,1277.6 489.6,1278.2 C492.3,1278.9 493.6,1279.1 495.3,1278.2 C497.0,1277.4 498.1,1275.7 499.1,1273.5 C500.2,1271.2 499.5,1268.6 501.0,1265.8 C502.6,1263.1 505.6,1260.1 507.7,1258.2 C509.8,1256.3 509.6,1256.2 512.5,1255.4 C515.4,1254.5 519.8,1254.0 523.9,1253.5 C528.0,1252.9 530.2,1252.1 535.3,1252.1 C540.5,1252.1 547.9,1252.5 552.5,1253.5 C557.1,1254.4 558.5,1258.6 561.1,1257.3 C563.7,1255.9 565.3,1250.1 566.8,1245.8 C568.3,1241.5 569.3,1237.7 569.7,1233.4 C570.0,1229.2 569.7,1225.0 568.7,1222.0 C567.7,1219.0 566.5,1218.0 563.9,1216.7 C561.4,1215.3 557.5,1215.6 554.4,1214.4 C551.3,1213.1 548.8,1211.5 546.8,1209.6 C544.7,1207.7 543.1,1206.5 543.0,1203.9 C542.8,1201.3 544.1,1197.0 545.8,1195.3 C547.5,1193.6 550.8,1195.6 552.5,1194.4 C554.2,1193.2 554.0,1190.5 555.4,1188.6 C556.7,1186.8 557.9,1184.4 560.1,1183.9 C562.4,1183.4 565.9,1186.8 567.8,1185.8 C569.6,1184.8 568.2,1179.7 570.6,1178.2 C573.0,1176.6 578.5,1178.2 581.1,1177.2 C583.7,1176.2 582.5,1173.8 584.9,1172.4 C587.3,1171.1 590.3,1170.8 594.4,1169.6 C598.6,1168.4 605.2,1167.7 607.8,1165.8 C610.4,1163.9 609.1,1162.0 608.7,1159.1 C608.4,1156.2 607.3,1152.5 605.9,1149.6 C604.5,1146.6 600.4,1144.3 601.1,1142.9 C601.8,1141.5 605.4,1141.9 609.7,1141.6 C614.0,1141.2 620.8,1140.4 624.9,1141.0 C629.1,1141.6 629.9,1143.8 632.6,1144.8 C635.3,1145.8 638.7,1146.4 640.0,1146.7"/>
<path d="M601.1,1142.9 C599.2,1141.9 593.9,1138.4 590.6,1137.2 C587.4,1136.0 585.7,1136.9 583.0,1136.2 C580.3,1135.5 578.5,1134.6 575.4,1133.4 C572.3,1132.2 566.9,1131.4 565.8,1129.5 C564.8,1127.7 569.0,1124.9 569.7,1122.9 C570.3,1120.8 570.7,1119.7 569.7,1118.1 C568.6,1116.6 565.1,1116.0 563.9,1114.3 C562.7,1112.6 563.7,1111.2 563.0,1108.6 C562.3,1106.0 560.6,1101.5 560.1,1100.0"/>
<path d="M640.0,1145.8 C641.0,1145.6 643.0,1144.5 645.7,1144.8 C648.5,1145.1 652.3,1145.9 655.3,1147.3 C658.2,1148.6 657.1,1150.1 661.9,1152.4 C666.7,1154.7 675.9,1158.3 681.9,1160.0 C687.9,1161.8 689.1,1160.1 695.3,1162.0 C701.5,1163.8 709.0,1168.5 716.3,1170.2 C723.5,1171.8 730.2,1170.4 735.3,1170.9 C740.5,1171.4 740.9,1172.5 744.8,1172.8 C748.8,1173.1 754.1,1173.7 757.2,1172.4 C760.3,1171.2 759.8,1167.7 762.0,1165.8 C764.2,1163.9 766.2,1163.8 769.6,1162.0 C773.1,1160.1 778.7,1157.7 781.1,1155.3 C783.5,1152.9 780.9,1150.3 783.0,1148.6 C785.0,1147.0 789.4,1147.2 792.5,1146.1 C795.6,1145.1 796.7,1143.9 800.1,1142.9 C803.6,1141.9 808.3,1139.0 811.6,1140.4 C814.8,1141.8 816.2,1147.7 818.2,1150.5 C820.3,1153.4 820.8,1154.4 823.0,1156.2 C825.2,1158.1 828.2,1157.9 830.6,1160.6 C833.0,1163.4 834.3,1168.5 836.3,1171.5 C838.4,1174.5 839.7,1176.2 842.1,1177.2 C844.5,1178.2 847.3,1177.0 849.7,1177.2 C852.1,1177.4 852.7,1178.6 855.4,1178.5 C858.2,1178.4 861.9,1177.7 864.9,1176.6 C868.0,1175.5 869.9,1173.3 872.6,1172.4 C875.3,1171.6 878.7,1172.1 880.0,1172.1"/>
<path d="M798.2,1100.0 C797.9,1100.5 796.1,1101.7 796.3,1102.9 C796.5,1104.1 799.7,1104.9 799.2,1106.7 C798.7,1108.5 792.8,1110.9 793.5,1113.0 C794.1,1115.0 799.0,1115.0 803.0,1118.1 C806.9,1121.3 810.6,1125.5 815.4,1130.5 C820.2,1135.5 826.6,1142.3 829.7,1145.8 C832.8,1149.2 830.8,1147.8 832.5,1149.6 C834.2,1151.3 837.0,1152.0 839.2,1155.3 C841.4,1158.5 843.0,1163.9 844.9,1167.7 C846.8,1171.4 847.8,1174.3 849.7,1176.3 C851.6,1178.2 854.4,1178.1 855.4,1178.5"/>
<path d="M880.0,1199.1 C879.7,1200.2 879.3,1202.1 878.3,1204.8 C877.3,1207.6 876.5,1212.5 874.5,1214.4 C872.4,1216.3 871.3,1216.0 866.8,1215.3 C862.4,1214.6 853.5,1210.4 849.7,1210.6 C845.9,1210.7 847.1,1214.4 845.9,1216.3 C844.7,1218.2 845.1,1219.8 843.0,1221.0 C841.0,1222.2 837.4,1222.8 834.4,1223.0 C831.5,1223.1 830.2,1221.7 826.8,1222.0 C823.4,1222.3 817.6,1223.1 815.4,1224.9 C813.1,1226.6 815.1,1228.6 814.4,1231.5 C813.7,1234.4 812.9,1237.3 811.6,1241.1 C810.2,1244.8 808.9,1248.4 806.8,1252.5 C804.7,1256.6 803.7,1260.2 800.1,1263.9 C796.5,1267.7 791.1,1270.6 786.8,1273.5 C782.5,1276.4 779.0,1277.7 776.3,1280.1 C773.6,1282.5 772.9,1283.9 771.5,1286.8 C770.2,1289.7 769.5,1292.7 768.7,1296.3 C767.8,1299.9 768.0,1304.3 766.8,1306.8 C765.6,1309.4 763.9,1308.9 762.0,1310.6 C760.1,1312.4 757.5,1314.5 756.3,1316.4 C755.1,1318.2 756.0,1319.4 755.3,1321.1 C754.6,1322.8 752.5,1323.8 752.5,1325.9 C752.5,1328.0 754.0,1330.7 755.3,1332.6 C756.7,1334.5 758.6,1335.0 760.1,1336.4 C761.6,1337.7 763.2,1339.3 763.9,1340.0"/>
<path d="M755.3,1332.6 C753.4,1332.7 748.1,1332.8 744.8,1333.5 C741.6,1334.2 739.3,1335.2 737.2,1336.4 C735.2,1337.5 734.1,1339.3 733.4,1340.0"/>
<path d="M880.0,1171.5 C881.4,1171.4 885.4,1170.7 887.6,1170.9 C889.9,1171.1 891.0,1172.6 892.4,1172.4 C893.8,1172.3 888.9,1169.1 895.3,1170.2 C901.6,1171.2 921.5,1176.4 927.7,1178.5 C933.8,1180.7 930.1,1180.0 929.6,1182.0 C929.0,1184.0 925.7,1187.5 924.8,1189.6 C923.9,1191.7 922.6,1192.0 924.8,1193.4 C927.0,1194.8 931.5,1196.6 937.2,1197.2 C942.8,1197.8 950.4,1196.7 956.3,1196.8 C962.1,1197.0 965.8,1196.9 969.6,1198.2 C973.4,1199.4 975.2,1201.8 977.2,1203.9 C979.3,1206.0 980.2,1207.7 981.0,1209.6 C981.9,1211.5 979.6,1213.3 982.0,1214.4 C984.4,1215.4 990.8,1214.9 994.4,1215.3 C998.0,1215.7 998.9,1217.9 1002.0,1216.7 C1005.1,1215.5 1008.8,1210.5 1011.5,1208.7 C1014.3,1206.8 1014.2,1205.9 1017.3,1206.4 C1020.3,1206.9 1025.9,1209.9 1028.7,1211.5 C1031.4,1213.1 1031.5,1213.8 1032.5,1215.3 C1033.5,1216.9 1031.0,1218.2 1034.4,1220.1 C1037.8,1222.0 1045.0,1223.6 1051.6,1225.8 C1058.1,1228.0 1066.3,1230.9 1070.6,1232.5 C1074.9,1234.0 1073.8,1232.7 1075.4,1234.4 C1076.9,1236.1 1076.8,1240.6 1079.2,1242.0 C1081.6,1243.4 1087.9,1239.4 1088.7,1242.0 C1089.6,1244.6 1083.8,1251.8 1084.0,1256.3 C1084.1,1260.9 1089.7,1265.0 1089.7,1267.4 C1089.7,1269.8 1086.9,1269.7 1084.0,1269.7 C1081.1,1269.7 1076.2,1267.4 1073.5,1267.4 C1070.7,1267.4 1069.8,1267.0 1068.7,1269.7 C1067.7,1272.3 1068.6,1279.1 1067.8,1282.0 C1066.9,1285.0 1065.5,1285.5 1064.0,1285.9 C1062.4,1286.2 1060.4,1285.3 1059.2,1284.0 C1058.0,1282.6 1059.7,1279.5 1057.3,1278.2 C1054.9,1277.0 1051.0,1276.6 1045.8,1276.9 C1040.7,1277.2 1035.6,1278.5 1028.7,1280.1 C1021.8,1281.8 1013.2,1282.6 1007.7,1285.9 C1002.2,1289.1 1000.9,1295.2 998.2,1298.3 C995.4,1301.3 993.5,1301.1 992.5,1303.0 C991.4,1304.9 991.3,1307.4 992.5,1308.7 C993.7,1310.1 995.4,1310.3 999.1,1310.6 C1002.9,1311.0 1008.8,1309.8 1013.4,1310.6 C1018.1,1311.5 1023.2,1313.4 1024.9,1315.4 C1026.6,1317.5 1022.3,1319.7 1023.0,1322.1 C1023.7,1324.5 1027.0,1325.5 1028.7,1328.8 C1030.4,1332.0 1031.8,1338.0 1032.5,1340.0"/>
<path d="M892.4,1172.4 C891.5,1174.5 889.5,1179.4 887.6,1183.9 C885.7,1188.3 883.3,1194.5 881.9,1197.2 C880.5,1200.0 880.3,1198.8 880.0,1199.1"/>
<path d="M1075.4,1234.4 C1078.0,1232.8 1085.4,1227.7 1089.7,1225.8 C1094.0,1223.9 1093.8,1224.8 1099.2,1223.9 C1104.7,1223.1 1116.3,1221.6 1120.0,1221.0"/>
<path d="M448.6,1340.0 C448.3,1342.1 447.4,1348.0 446.7,1351.4 C446.0,1354.9 446.0,1356.3 444.8,1359.1 C443.6,1361.8 441.2,1363.9 440.0,1366.7 C438.8,1369.4 439.7,1371.9 438.1,1374.3 C436.6,1376.7 433.3,1378.0 431.5,1380.0 C429.6,1382.1 427.8,1383.2 427.6,1385.8 C427.5,1388.3 430.3,1391.1 430.5,1394.3 C430.7,1397.6 430.0,1401.3 428.6,1403.9 C427.2,1406.4 424.8,1407.1 422.9,1408.6 C421.0,1410.2 418.6,1410.6 418.1,1412.4 C417.6,1414.3 420.5,1416.4 420.0,1419.1 C419.5,1421.9 416.8,1425.1 415.3,1427.7 C413.7,1430.3 413.3,1430.8 411.4,1433.4 C409.6,1436.0 406.5,1439.6 404.8,1442.0 C403.0,1444.4 402.2,1444.5 401.5,1446.8 C400.8,1449.0 401.1,1453.0 401.0,1454.4"/>
<path d="M445.8,1353.3 C447.8,1354.1 453.6,1355.7 457.2,1357.5 C460.8,1359.4 462.3,1362.6 465.8,1363.8 C469.2,1365.1 472.5,1363.6 476.3,1364.4 C480.0,1365.2 484.0,1368.2 486.7,1368.2 C489.5,1368.2 488.6,1365.3 491.5,1364.4 C494.4,1363.5 498.8,1362.6 502.9,1363.3 C507.1,1363.9 509.9,1367.0 514.4,1368.2 C518.8,1369.4 523.6,1370.4 527.7,1370.1 C531.8,1369.8 535.0,1368.3 537.3,1366.7 C539.5,1365.0 537.7,1362.5 540.1,1361.0 C542.5,1359.4 546.6,1358.9 550.6,1358.1 C554.5,1357.4 558.9,1357.1 562.0,1356.8 C565.1,1356.4 565.7,1355.9 567.8,1356.2 C569.8,1356.5 572.1,1357.0 573.5,1358.7 C574.8,1360.4 573.7,1363.8 575.4,1365.7 C577.1,1367.7 578.9,1367.1 583.0,1369.5 C587.1,1371.9 594.1,1377.1 598.3,1379.1 C602.4,1381.1 601.6,1380.2 605.9,1380.6 C610.2,1381.0 617.3,1382.3 622.1,1381.6 C626.9,1380.8 629.3,1377.6 632.6,1376.2 C635.8,1374.8 638.7,1374.3 640.0,1373.9"/>
<path d="M401.0,1454.4 C401.5,1454.3 401.8,1453.3 403.8,1454.0 C405.9,1454.7 409.3,1458.1 412.4,1458.2 C415.5,1458.3 418.1,1455.9 421.0,1454.4 C423.9,1452.8 426.2,1450.3 428.6,1449.6 C431.0,1448.9 432.3,1451.1 434.3,1450.6 C436.4,1450.0 437.5,1447.5 440.0,1446.4 C442.6,1445.3 445.2,1445.6 448.6,1444.5 C452.0,1443.3 454.5,1440.9 459.1,1440.1 C463.7,1439.3 469.7,1441.5 474.3,1440.1 C479.0,1438.7 480.4,1434.2 484.8,1432.5 C489.3,1430.7 494.5,1430.5 499.1,1430.5 C503.8,1430.5 506.4,1431.3 510.6,1432.5 C514.7,1433.7 517.9,1435.8 522.0,1437.2 C526.1,1438.7 529.3,1440.2 533.4,1440.5 C537.6,1440.7 541.4,1439.4 544.9,1438.7 C548.3,1438.1 548.0,1436.3 552.5,1436.8 C557.0,1437.4 561.8,1441.6 569.7,1442.0 C577.6,1442.4 588.5,1438.8 596.3,1439.1 C604.2,1439.5 605.6,1440.8 613.5,1443.9 C621.4,1447.0 635.2,1454.1 640.0,1456.3"/>
<path d="M640.0,1372.4 C640.3,1372.2 641.5,1372.8 641.5,1371.5 C641.5,1370.1 638.6,1366.3 640.0,1364.8 C641.4,1363.2 645.8,1363.4 649.5,1362.9 C653.3,1362.4 658.1,1362.8 661.0,1361.9 C663.9,1361.1 663.5,1359.5 665.7,1358.1 C668.0,1356.7 670.4,1355.7 673.4,1354.3 C676.3,1352.9 678.7,1352.0 681.9,1350.5 C685.2,1348.9 687.0,1347.4 691.5,1345.7 C695.9,1344.0 701.6,1341.9 706.7,1341.0 C711.9,1340.0 715.9,1340.5 720.1,1340.6 C724.2,1340.7 727.0,1341.6 729.6,1341.5 C732.2,1341.4 733.5,1340.3 734.4,1340.0"/>
<path d="M762.0,1340.0 C762.9,1341.4 765.6,1344.4 766.8,1347.6 C768.0,1350.9 767.8,1355.0 768.7,1358.1 C769.5,1361.2 770.7,1361.9 771.5,1364.8 C772.4,1367.7 772.8,1370.2 773.4,1374.3 C774.1,1378.4 774.7,1383.9 775.3,1387.7 C776.0,1391.4 776.9,1393.2 776.9,1395.3 C776.9,1397.3 775.1,1396.7 775.3,1399.1 C775.6,1401.5 777.2,1405.7 778.2,1408.6 C779.2,1411.5 780.4,1413.2 781.1,1415.3 C781.8,1417.4 781.5,1419.9 782.0,1420.1 C782.5,1420.2 782.4,1416.8 783.9,1416.3 C785.5,1415.7 788.0,1417.9 790.6,1417.2 C793.2,1416.5 794.4,1413.5 798.2,1412.4 C802.0,1411.4 805.7,1411.8 811.6,1411.5 C817.4,1411.2 823.8,1411.1 830.6,1410.9 C837.5,1410.7 844.9,1410.7 849.7,1410.5 C854.5,1410.4 857.3,1410.5 857.3,1410.2 C857.3,1409.8 850.0,1409.2 849.7,1408.6 C849.3,1408.0 852.7,1406.7 855.4,1406.7 C858.2,1406.7 860.5,1407.4 864.9,1408.6 C869.4,1409.8 877.3,1412.5 880.0,1413.4"/>
<path d="M782.0,1418.2 C780.5,1417.9 777.0,1416.8 773.4,1416.6 C769.8,1416.5 765.4,1416.6 762.0,1417.2 C758.6,1417.8 757.5,1418.7 754.4,1420.1 C751.3,1421.4 749.3,1422.6 744.8,1424.8 C740.4,1427.1 734.7,1429.7 729.6,1432.5 C724.4,1435.2 722.1,1436.8 716.3,1440.1 C710.4,1443.3 703.2,1447.0 697.2,1450.6 C691.2,1454.2 686.7,1458.4 682.9,1460.1 C679.1,1461.7 678.4,1460.1 676.2,1459.7 C674.0,1459.4 673.6,1458.6 670.5,1458.2 C667.4,1457.7 662.5,1457.4 659.1,1457.2 C655.6,1457.1 653.5,1456.9 651.4,1457.2 C649.4,1457.6 649.2,1459.1 647.6,1459.1 C646.1,1459.1 643.9,1456.9 642.9,1457.2 C641.8,1457.6 641.4,1459.8 641.9,1461.0 C642.4,1462.2 645.0,1463.4 645.7,1463.9"/>
<path d="M650.5,1464.9 C652.4,1465.5 657.4,1468.4 661.0,1468.7 C664.6,1468.9 667.9,1467.4 670.5,1466.2 C673.1,1465.0 675.1,1463.2 675.3,1462.0 C675.4,1460.8 672.7,1459.4 671.5,1459.7 C670.3,1460.1 670.8,1462.8 668.6,1463.9 C666.4,1465.0 662.3,1465.6 659.1,1465.8 C655.8,1466.0 652.0,1465.0 650.5,1464.9"/>
<path d="M880.0,1413.4 C881.4,1413.9 884.7,1415.2 887.6,1416.3 C890.5,1417.3 894.5,1419.3 896.2,1419.1 C897.9,1418.9 898.0,1417.2 897.2,1415.3 C896.3,1413.4 893.2,1410.7 891.4,1408.6 C889.7,1406.6 886.8,1404.9 887.6,1403.9 C888.5,1402.8 893.1,1404.1 896.2,1402.9 C899.3,1401.7 901.4,1399.8 904.8,1397.2 C908.2,1394.6 914.9,1388.3 915.3,1388.6 C915.6,1389.0 909.3,1396.2 906.7,1399.1 C904.1,1402.0 902.3,1402.8 901.0,1404.8 C899.6,1406.9 899.1,1408.5 899.1,1410.5 C899.1,1412.6 899.8,1414.5 901.0,1416.3 C902.2,1418.0 903.3,1418.7 905.7,1420.1 C908.1,1421.4 910.7,1422.0 914.3,1423.9 C917.9,1425.8 922.0,1428.8 925.8,1430.5 C929.5,1432.3 931.9,1432.2 935.3,1433.4 C938.7,1434.6 939.3,1434.1 944.8,1437.2 C950.3,1440.3 958.6,1446.3 965.8,1450.6 C973.0,1454.9 978.7,1457.4 984.8,1461.0 C991.0,1464.7 996.0,1467.3 1000.1,1470.6 C1004.2,1473.8 1005.3,1475.9 1007.7,1479.2 C1010.1,1482.4 1011.4,1485.3 1013.4,1488.7 C1015.5,1492.1 1016.8,1495.0 1019.2,1498.2 C1021.6,1501.5 1024.0,1505.4 1026.8,1506.8 C1029.5,1508.2 1032.7,1506.7 1034.4,1505.8 C1036.1,1505.0 1036.3,1504.8 1036.3,1502.0 C1036.3,1499.3 1034.4,1493.7 1034.4,1490.6 C1034.4,1487.5 1034.3,1486.6 1036.3,1484.9 C1038.4,1483.2 1041.0,1481.6 1045.8,1481.1 C1050.6,1480.5 1056.8,1481.0 1063.0,1482.0 C1069.2,1483.0 1074.5,1484.6 1080.2,1486.8 C1085.8,1489.0 1087.3,1492.6 1094.5,1494.4 C1101.6,1496.2 1115.4,1496.3 1120.0,1496.7"/>
<path d="M1033.5,1340.0 C1034.5,1341.7 1037.1,1346.4 1039.2,1349.5 C1041.2,1352.6 1044.4,1355.3 1044.9,1357.2 C1045.4,1359.0 1043.9,1359.2 1042.0,1360.0 C1040.1,1360.9 1036.1,1360.9 1034.4,1361.9 C1032.7,1363.0 1032.7,1363.8 1032.5,1365.7 C1032.3,1367.6 1034.1,1370.0 1033.5,1372.4 C1032.8,1374.8 1029.2,1377.2 1028.7,1379.1 C1028.2,1381.0 1029.1,1381.2 1030.6,1382.9 C1032.1,1384.6 1035.9,1386.7 1037.3,1388.6 C1038.6,1390.5 1038.7,1390.8 1038.2,1393.4 C1037.7,1395.9 1034.9,1399.8 1034.4,1402.9 C1033.9,1406.0 1034.8,1407.8 1035.4,1410.5 C1035.9,1413.3 1037.4,1415.4 1037.3,1418.2 C1037.1,1420.9 1034.8,1423.0 1034.4,1425.8 C1034.1,1428.5 1036.4,1430.7 1035.4,1433.4 C1034.3,1436.2 1030.1,1438.6 1028.7,1441.0 C1027.3,1443.4 1027.2,1443.7 1027.7,1446.8 C1028.3,1449.8 1030.3,1455.1 1031.5,1458.2 C1032.7,1461.3 1034.9,1460.8 1034.4,1463.9 C1033.9,1467.0 1029.0,1472.6 1028.7,1475.3 C1028.3,1478.1 1031.0,1478.0 1032.5,1479.2 C1034.0,1480.4 1036.4,1481.5 1037.3,1482.0"/>
<path d="M1037.3,1482.0 C1039.2,1481.3 1045.0,1478.5 1047.8,1478.2 C1050.5,1477.9 1049.8,1479.6 1052.5,1480.1 C1055.3,1480.6 1059.2,1481.8 1063.0,1481.1 C1066.8,1480.4 1072.6,1476.1 1073.5,1476.3 C1074.3,1476.5 1071.0,1480.9 1067.8,1482.0 C1064.5,1483.1 1057.6,1482.5 1055.4,1482.6"/>
<path d="M1036.3,1484.9 C1036.1,1486.2 1035.2,1489.1 1035.4,1492.5 C1035.5,1495.9 1037.4,1500.9 1037.3,1503.9 C1037.1,1507.0 1037.3,1507.8 1034.4,1509.7 C1031.5,1511.5 1024.5,1512.7 1021.1,1514.4 C1017.6,1516.1 1016.5,1517.1 1015.3,1519.2 C1014.1,1521.2 1013.7,1523.1 1014.4,1525.9 C1015.1,1528.6 1017.3,1530.8 1019.2,1534.4 C1021.0,1538.0 1022.8,1543.0 1024.9,1545.9 C1026.9,1548.8 1026.1,1549.6 1030.6,1550.6 C1035.1,1551.7 1043.8,1549.7 1049.7,1551.6 C1055.5,1553.5 1060.3,1558.0 1063.0,1561.1 C1065.7,1564.2 1064.7,1566.2 1064.9,1568.8 C1065.1,1571.3 1063.6,1573.7 1064.0,1575.4 C1064.3,1577.1 1064.6,1577.9 1066.8,1578.3 C1069.0,1578.6 1074.6,1577.5 1076.3,1577.3"/>
<path d="M1045.8,1571.6 C1046.5,1571.4 1047.3,1569.6 1049.7,1570.7 C1052.1,1571.7 1058.8,1576.0 1059.2,1577.3 C1059.5,1578.7 1054.0,1579.3 1051.6,1578.3 C1049.2,1577.3 1046.9,1572.8 1045.8,1571.6"/>
<path d="M448.8,369.0 L449.9,381.0"/>
<path d="M398.3,896.5 C398.4,897.3 398.4,899.3 398.8,901.0 C399.2,902.7 400.2,905.1 400.5,906.0"/>
</g>
<ellipse cx="386.3" cy="1017.3" rx="7.2" ry="2.4" transform="rotate(-50 386.3 1017.3)" fill="none" stroke="#000" stroke-width="1.8"/>
<text transform="translate(616.8,494.8) rotate(-16) scale(1,1.07)" x="0" y="0" text-anchor="middle" font-family='"Liberation Sans", sans-serif' font-size="16.5" fill="#808080" textLength="40" lengthAdjust="spacingAndGlyphs">1024</text>
<text transform="translate(568.6,592.0) rotate(-4) scale(1,1.07)" x="0" y="0" text-anchor="middle" font-family='"Liberation Sans", sans-serif' font-size="16.5" fill="#808080" textLength="40" lengthAdjust="spacingAndGlyphs">1024</text>
</g>
<rect x="160" y="140" width="960" height="1440" fill="none" stroke="#111" stroke-width="2"/>
<line x1="153" y1="140" x2="160" y2="140" stroke="#000" stroke-width="1.6"/>
<line x1="153" y1="500" x2="160" y2="500" stroke="#000" stroke-width="1.6"/>
<line x1="153" y1="860" x2="160" y2="860" stroke="#000" stroke-width="1.6"/>
<line x1="153" y1="1220" x2="160" y2="1220" stroke="#000" stroke-width="1.6"/>
<line x1="153" y1="1580" x2="160" y2="1580" stroke="#000" stroke-width="1.6"/>
<line x1="160" y1="1580" x2="160" y2="1587" stroke="#000" stroke-width="1.6"/>
<line x1="400" y1="1580" x2="400" y2="1587" stroke="#000" stroke-width="1.6"/>
<line x1="640" y1="1580" x2="640" y2="1587" stroke="#000" stroke-width="1.6"/>
<line x1="880" y1="1580" x2="880" y2="1587" stroke="#000" stroke-width="1.6"/>
<line x1="1120" y1="1580" x2="1120" y2="1587" stroke="#000" stroke-width="1.6"/>
<rect x="1122" y="1526.67" width="36" height="53.63" fill="#006837"/>
<rect x="1122" y="1473.33" width="36" height="53.63" fill="#0a7a40"/>
<rect x="1122" y="1420.00" width="36" height="53.63" fill="#138c4a"/>
<rect x="1122" y="1366.67" width="36" height="53.63" fill="#229c52"/>
<rect x="1122" y="1313.33" width="36" height="53.63" fill="#3faa59"/>
<rect x="1122" y="1260.00" width="36" height="53.63" fill="#5bb860"/>
<rect x="1122" y="1206.67" width="36" height="53.63" fill="#74c365"/>
<rect x="1122" y="1153.33" width="36" height="53.63" fill="#8cce67"/>
<rect x="1122" y="1100.00" width="36" height="53.63" fill="#a4d86a"/>
<rect x="1122" y="1046.67" width="36" height="53.63" fill="#b7e075"/>
<rect x="1122" y="993.33" width="36" height="53.63" fill="#cae881"/>
<rect x="1122" y="940.00" width="36" height="53.63" fill="#dcf08f"/>
<rect x="1122" y="886.67" width="36" height="53.63" fill="#eaf6a2"/>
<rect x="1122" y="833.33" width="36" height="53.63" fill="#fff9b5"/>
<rect x="1122" y="780.00" width="36" height="53.63" fill="#feeea2"/>
<rect x="1122" y="726.67" width="36" height="53.63" fill="#fee28f"/>
<rect x="1122" y="673.33" width="36" height="53.63" fill="#fed17f"/>
<rect x="1122" y="620.00" width="36" height="53.63" fill="#fdbf6f"/>
<rect x="1122" y="566.67" width="36" height="53.63" fill="#fdac60"/>
<rect x="1122" y="513.33" width="36" height="53.63" fill="#f99455"/>
<rect x="1122" y="460.00" width="36" height="53.63" fill="#f67b4a"/>
<rect x="1122" y="406.67" width="36" height="53.63" fill="#f0643f"/>
<rect x="1122" y="353.33" width="36" height="53.63" fill="#e54d34"/>
<rect x="1122" y="300.00" width="36" height="53.63" fill="#da372a"/>
<rect x="1122" y="246.67" width="36" height="53.63" fill="#ca2427"/>
<rect x="1122" y="193.33" width="36" height="53.63" fill="#b81226"/>
<rect x="1122" y="140.00" width="36" height="53.63" fill="#a50026"/>
<line x1="1122" y1="1527.17" x2="1165" y2="1527.17" stroke="#000" stroke-width="1.3"/>
<text transform="translate(1173.80,1541.47) scale(1,1.05)" x="0" y="0" font-family='"Liberation Sans", sans-serif' font-size="37.5" font-weight="normal" textLength="69.60" lengthAdjust="spacingAndGlyphs">480</text>
<line x1="1122" y1="1473.83" x2="1165" y2="1473.83" stroke="#000" stroke-width="1.3"/>
<text transform="translate(1173.80,1488.13) scale(1,1.05)" x="0" y="0" font-family='"Liberation Sans", sans-serif' font-size="37.5" font-weight="normal" textLength="69.60" lengthAdjust="spacingAndGlyphs">485</text>
<line x1="1122" y1="1420.50" x2="1165" y2="1420.50" stroke="#000" stroke-width="1.3"/>
<text transform="translate(1173.80,1434.80) scale(1,1.05)" x="0" y="0" font-family='"Liberation Sans", sans-serif' font-size="37.5" font-weight="normal" textLength="69.60" lengthAdjust="spacingAndGlyphs">490</text>
<line x1="1122" y1="1367.17" x2="1165" y2="1367.17" stroke="#000" stroke-width="1.3"/>
<text transform="translate(1173.80,1381.47) scale(1,1.05)" x="0" y="0" font-family='"Liberation Sans", sans-serif' font-size="37.5" font-weight="normal" textLength="69.60" lengthAdjust="spacingAndGlyphs">495</text>
<line x1="1122" y1="1313.83" x2="1165" y2="1313.83" stroke="#000" stroke-width="1.3"/>
<text transform="translate(1173.80,1328.13) scale(1,1.05)" x="0" y="0" font-family='"Liberation Sans", sans-serif' font-size="37.5" font-weight="normal" textLength="69.60" lengthAdjust="spacingAndGlyphs">500</text>
<line x1="1122" y1="1260.50" x2="1165" y2="1260.50" stroke="#000" stroke-width="1.3"/>
<text transform="translate(1173.80,1274.80) scale(1,1.05)" x="0" y="0" font-family='"Liberation Sans", sans-serif' font-size="37.5" font-weight="normal" textLength="69.60" lengthAdjust="spacingAndGlyphs">505</text>
<line x1="1122" y1="1207.17" x2="1165" y2="1207.17" stroke="#000" stroke-width="1.3"/>
<text transform="translate(1173.80,1221.47) scale(1,1.05)" x="0" y="0" font-family='"Liberation Sans", sans-serif' font-size="37.5" font-weight="normal" textLength="69.60" lengthAdjust="spacingAndGlyphs">510</text>
<line x1="1122" y1="1153.83" x2="1165" y2="1153.83" stroke="#000" stroke-width="1.3"/>
<text transform="translate(1173.80,1168.13) scale(1,1.05)" x="0" y="0" font-family='"Liberation Sans", sans-serif' font-size="37.5" font-weight="normal" textLength="69.60" lengthAdjust="spacingAndGlyphs">515</text>
<line x1="1122" y1="1100.50" x2="1165" y2="1100.50" stroke="#000" stroke-width="1.3"/>
<text transform="translate(1173.80,1114.80) scale(1,1.05)" x="0" y="0" font-family='"Liberation Sans", sans-serif' font-size="37.5" font-weight="normal" textLength="69.60" lengthAdjust="spacingAndGlyphs">520</text>
<line x1="1122" y1="1047.17" x2="1165" y2="1047.17" stroke="#000" stroke-width="1.3"/>
<text transform="translate(1173.80,1061.47) scale(1,1.05)" x="0" y="0" font-family='"Liberation Sans", sans-serif' font-size="37.5" font-weight="normal" textLength="69.60" lengthAdjust="spacingAndGlyphs">525</text>
<line x1="1122" y1="993.83" x2="1165" y2="993.83" stroke="#000" stroke-width="1.3"/>
<text transform="translate(1173.80,1008.13) scale(1,1.05)" x="0" y="0" font-family='"Liberation Sans", sans-serif' font-size="37.5" font-weight="normal" textLength="69.60" lengthAdjust="spacingAndGlyphs">530</text>
<line x1="1122" y1="940.50" x2="1165" y2="940.50" stroke="#000" stroke-width="1.3"/>
<text transform="translate(1173.80,954.80) scale(1,1.05)" x="0" y="0" font-family='"Liberation Sans", sans-serif' font-size="37.5" font-weight="normal" textLength="69.60" lengthAdjust="spacingAndGlyphs">535</text>
<line x1="1122" y1="887.17" x2="1165" y2="887.17" stroke="#000" stroke-width="1.3"/>
<text transform="translate(1173.80,901.47) scale(1,1.05)" x="0" y="0" font-family='"Liberation Sans", sans-serif' font-size="37.5" font-weight="normal" textLength="69.60" lengthAdjust="spacingAndGlyphs">540</text>
<line x1="1122" y1="833.83" x2="1165" y2="833.83" stroke="#000" stroke-width="1.3"/>
<text transform="translate(1173.80,848.13) scale(1,1.05)" x="0" y="0" font-family='"Liberation Sans", sans-serif' font-size="37.5" font-weight="normal" textLength="69.60" lengthAdjust="spacingAndGlyphs">545</text>
<line x1="1122" y1="780.50" x2="1165" y2="780.50" stroke="#000" stroke-width="1.3"/>
<text transform="translate(1173.80,794.80) scale(1,1.05)" x="0" y="0" font-family='"Liberation Sans", sans-serif' font-size="37.5" font-weight="normal" textLength="69.60" lengthAdjust="spacingAndGlyphs">550</text>
<line x1="1122" y1="727.17" x2="1165" y2="727.17" stroke="#000" stroke-width="1.3"/>
<text transform="translate(1173.80,741.47) scale(1,1.05)" x="0" y="0" font-family='"Liberation Sans", sans-serif' font-size="37.5" font-weight="normal" textLength="69.60" lengthAdjust="spacingAndGlyphs">555</text>
<line x1="1122" y1="673.83" x2="1165" y2="673.83" stroke="#000" stroke-width="1.3"/>
<text transform="translate(1173.80,688.13) scale(1,1.05)" x="0" y="0" font-family='"Liberation Sans", sans-serif' font-size="37.5" font-weight="normal" textLength="69.60" lengthAdjust="spacingAndGlyphs">560</text>
<line x1="1122" y1="620.50" x2="1165" y2="620.50" stroke="#000" stroke-width="1.3"/>
<text transform="translate(1173.80,634.80) scale(1,1.05)" x="0" y="0" font-family='"Liberation Sans", sans-serif' font-size="37.5" font-weight="normal" textLength="69.60" lengthAdjust="spacingAndGlyphs">565</text>
<line x1="1122" y1="567.17" x2="1165" y2="567.17" stroke="#000" stroke-width="1.3"/>
<text transform="translate(1173.80,581.47) scale(1,1.05)" x="0" y="0" font-family='"Liberation Sans", sans-serif' font-size="37.5" font-weight="normal" textLength="69.60" lengthAdjust="spacingAndGlyphs">570</text>
<line x1="1122" y1="513.83" x2="1165" y2="513.83" stroke="#000" stroke-width="1.3"/>
<text transform="translate(1173.80,528.13) scale(1,1.05)" x="0" y="0" font-family='"Liberation Sans", sans-serif' font-size="37.5" font-weight="normal" textLength="69.60" lengthAdjust="spacingAndGlyphs">575</text>
<line x1="1122" y1="460.50" x2="1165" y2="460.50" stroke="#000" stroke-width="1.3"/>
<text transform="translate(1173.80,474.80) scale(1,1.05)" x="0" y="0" font-family='"Liberation Sans", sans-serif' font-size="37.5" font-weight="normal" textLength="69.60" lengthAdjust="spacingAndGlyphs">580</text>
<line x1="1122" y1="407.17" x2="1165" y2="407.17" stroke="#000" stroke-width="1.3"/>
<text transform="translate(1173.80,421.47) scale(1,1.05)" x="0" y="0" font-family='"Liberation Sans", sans-serif' font-size="37.5" font-weight="normal" textLength="69.60" lengthAdjust="spacingAndGlyphs">585</text>
<line x1="1122" y1="353.83" x2="1165" y2="353.83" stroke="#000" stroke-width="1.3"/>
<text transform="translate(1173.80,368.13) scale(1,1.05)" x="0" y="0" font-family='"Liberation Sans", sans-serif' font-size="37.5" font-weight="normal" textLength="69.60" lengthAdjust="spacingAndGlyphs">590</text>
<line x1="1122" y1="300.50" x2="1165" y2="300.50" stroke="#000" stroke-width="1.3"/>
<text transform="translate(1173.80,314.80) scale(1,1.05)" x="0" y="0" font-family='"Liberation Sans", sans-serif' font-size="37.5" font-weight="normal" textLength="69.60" lengthAdjust="spacingAndGlyphs">595</text>
<line x1="1122" y1="247.17" x2="1165" y2="247.17" stroke="#000" stroke-width="1.3"/>
<text transform="translate(1173.80,261.47) scale(1,1.05)" x="0" y="0" font-family='"Liberation Sans", sans-serif' font-size="37.5" font-weight="normal" textLength="69.60" lengthAdjust="spacingAndGlyphs">600</text>
<line x1="1122" y1="193.83" x2="1165" y2="193.83" stroke="#000" stroke-width="1.3"/>
<text transform="translate(1173.80,208.13) scale(1,1.05)" x="0" y="0" font-family='"Liberation Sans", sans-serif' font-size="37.5" font-weight="normal" textLength="69.60" lengthAdjust="spacingAndGlyphs">605</text>
<text transform="translate(16.50,154.30) scale(1,1.05)" x="0" y="0" font-family='"Liberation Sans", sans-serif' font-size="37.5" font-weight="normal" textLength="128.80" lengthAdjust="spacingAndGlyphs">42.5°N</text>
<text transform="translate(51.60,514.30) scale(1,1.05)" x="0" y="0" font-family='"Liberation Sans", sans-serif' font-size="37.5" font-weight="normal" textLength="92.60" lengthAdjust="spacingAndGlyphs">41°N</text>
<text transform="translate(16.20,874.30) scale(1,1.05)" x="0" y="0" font-family='"Liberation Sans", sans-serif' font-size="37.5" font-weight="normal" textLength="129.00" lengthAdjust="spacingAndGlyphs">39.5°N</text>
<text transform="translate(50.80,1234.30) scale(1,1.05)" x="0" y="0" font-family='"Liberation Sans", sans-serif' font-size="37.5" font-weight="normal" textLength="93.80" lengthAdjust="spacingAndGlyphs">38°N</text>
<text transform="translate(16.35,1594.30) scale(1,1.05)" x="0" y="0" font-family='"Liberation Sans", sans-serif' font-size="37.5" font-weight="normal" textLength="129.60" lengthAdjust="spacingAndGlyphs">36.5°N</text>
<text transform="translate(108.20,1622.50) scale(1,1.05)" x="0" y="0" font-family='"Liberation Sans", sans-serif' font-size="37.5" font-weight="normal" textLength="100.90" lengthAdjust="spacingAndGlyphs">10°W</text>
<text transform="translate(359.70,1622.50) scale(1,1.05)" x="0" y="0" font-family='"Liberation Sans", sans-serif' font-size="37.5" font-weight="normal" textLength="78.30" lengthAdjust="spacingAndGlyphs">9°W</text>
<text transform="translate(599.70,1622.50) scale(1,1.05)" x="0" y="0" font-family='"Liberation Sans", sans-serif' font-size="37.5" font-weight="normal" textLength="78.30" lengthAdjust="spacingAndGlyphs">8°W</text>
<text transform="translate(839.70,1622.50) scale(1,1.05)" x="0" y="0" font-family='"Liberation Sans", sans-serif' font-size="37.5" font-weight="normal" textLength="78.30" lengthAdjust="spacingAndGlyphs">7°W</text>
<text transform="translate(1079.70,1622.50) scale(1,1.05)" x="0" y="0" font-family='"Liberation Sans", sans-serif' font-size="37.5" font-weight="normal" textLength="78.30" lengthAdjust="spacingAndGlyphs">6°W</text>
<text transform="translate(482.00,45.00) scale(1,1.11)" x="0" y="0" font-family='"Liberation Mono", monospace' font-size="37.75" font-weight="bold" textLength="315.10" lengthAdjust="spacingAndGlyphs">Synoptic Chart</text>
<text transform="translate(120.30,87.00) scale(1,1.11)" x="0" y="0" font-family='"Liberation Mono", monospace' font-size="37.75" font-weight="bold" textLength="1039.30" lengthAdjust="spacingAndGlyphs">ARPEGE 0.1º Forecast: Tuesday 2026-04-14 T 23Z</text>
<text transform="translate(311.10,129.00) scale(1,1.11)" x="0" y="0" font-family='"Liberation Mono", monospace' font-size="37.75" font-weight="bold" textLength="658.60" lengthAdjust="spacingAndGlyphs">Run 2026-04-14 T 00Z +23 hour</text>
<rect x="350.5" y="76" width="12.7" height="2.9" fill="#000"/>
</svg>
</body></html>
